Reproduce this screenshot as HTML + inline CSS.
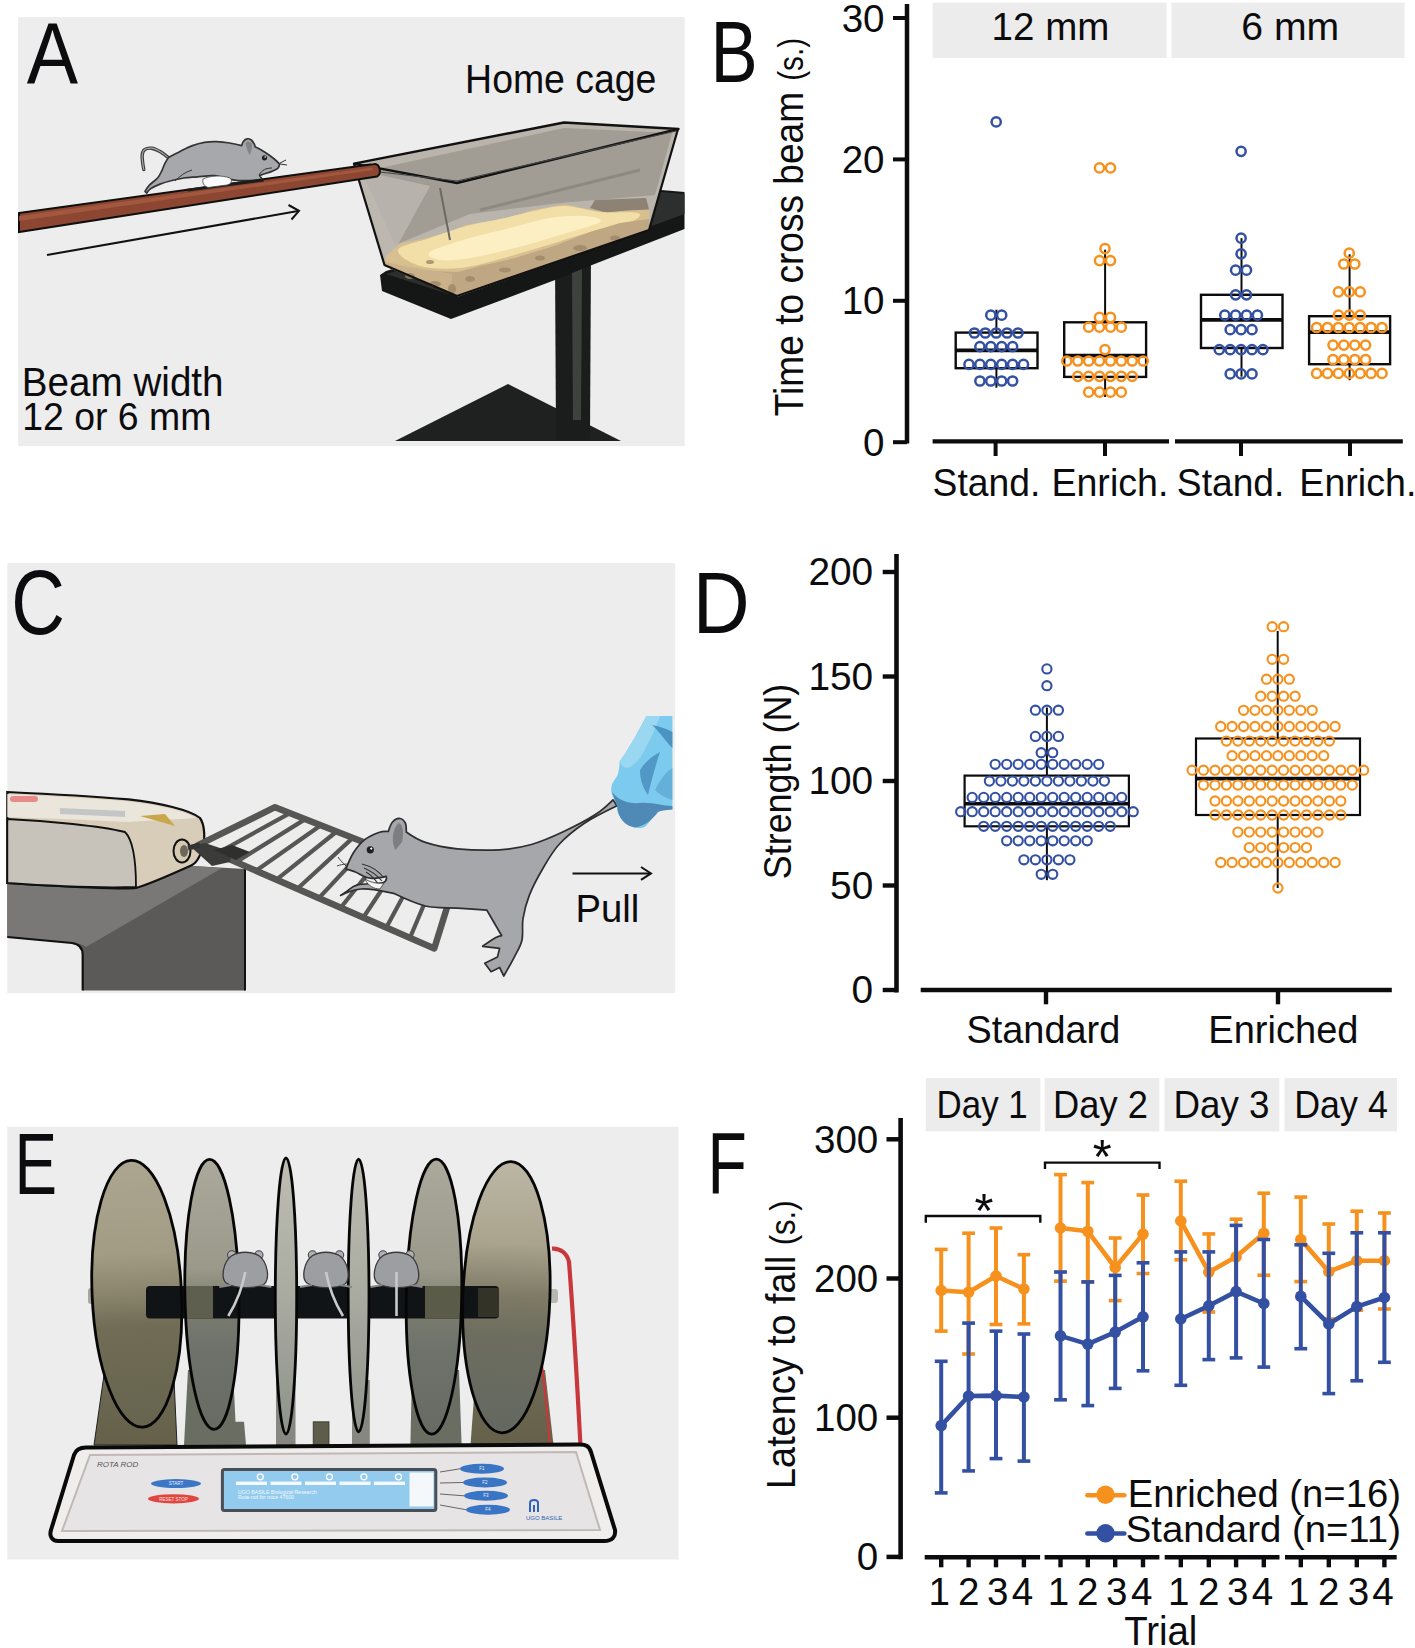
<!DOCTYPE html>
<html><head><meta charset="utf-8"><title>Figure</title>
<style>html,body{margin:0;padding:0;background:#fff;}svg{display:block;}text{font-family:"Liberation Sans",Arial,sans-serif;}</style>
</head><body>
<svg width="1415" height="1648" viewBox="0 0 1415 1648">
<rect width="1415" height="1648" fill="#ffffff"/>
<rect x="18.2" y="17" width="666.5" height="429.2" fill="#ededed"/>
<polygon points="395,441 508,384 621,441" fill="#1f2120"/>
<polygon points="555,262 591,252 590,440 556,440" fill="#1b1d1c"/>
<polygon points="572,270 582,268 581,420 573,420" fill="#3e423f"/>
<polygon points="380,275 386,271 661,190 684.5,192 684.5,229 592,265 555,280 451,319 382,291" fill="#151716"/>
<polygon points="386,274 661,192 684.5,194 684.5,214 458,297" fill="#2c2f2d"/>
<polygon points="354,164 564,123 678,129 649,230 457,296 384.5,265" fill="#b9b4ac"/>
<polygon points="362,172 564,128 672,133 655,195 560,203 470,214 395,245" fill="#a29d94"/>
<polygon points="358,176 380,175 430,186 395,250 386,258" fill="#bdb9b2" opacity="0.8"/>
<polygon points="386.4,255.6 400.7,243.3 421.2,239.2 452.0,231.0 466.3,224.8 493.0,220.7 513.5,216.6 534.0,209.5 564.7,204.3 585.2,208.4 605.7,212.5 626.2,210.5 649.8,209.5 649.0,230.0 458.0,296.6 384.5,266.0" fill="#d8bf90"/>
<polygon points="595,200 646,198 649,209.5 626,210.5 606,212.5 590,208" fill="#8d8273"/>
<path d="M398.0,250.0 C399.7,245.3 418.7,242.0 430.0,238.0 C441.3,234.0 454.3,229.2 466.0,226.0 C477.7,222.8 488.7,221.5 500.0,219.0 C511.3,216.5 523.2,213.2 534.0,211.0 C544.8,208.8 554.0,205.8 565.0,206.0 C576.0,206.2 587.8,210.8 600.0,212.0 C612.2,213.2 633.0,211.3 638.0,213.0 C643.0,214.7 638.0,218.8 630.0,222.0 C622.0,225.2 604.2,228.0 590.0,232.0 C575.8,236.0 560.0,241.5 545.0,246.0 C530.0,250.5 514.2,255.3 500.0,259.0 C485.8,262.7 473.3,266.8 460.0,268.0 C446.7,269.2 430.3,269.0 420.0,266.0 C409.7,263.0 396.3,254.7 398.0,250.0 Z" fill="#f2dfa8"/>
<path d="M430.0,252.0 C435.0,248.3 456.7,242.0 470.0,238.0 C483.3,234.0 496.7,231.3 510.0,228.0 C523.3,224.7 537.5,220.0 550.0,218.0 C562.5,216.0 576.7,215.3 585.0,216.0 C593.3,216.7 604.2,218.8 600.0,222.0 C595.8,225.2 574.2,230.7 560.0,235.0 C545.8,239.3 530.0,244.2 515.0,248.0 C500.0,251.8 482.5,256.0 470.0,258.0 C457.5,260.0 446.7,261.0 440.0,260.0 C433.3,259.0 425.0,255.7 430.0,252.0 Z" fill="#fbefc3"/>
<polygon points="386,262 405,268 430,271 458,272 480,266 515,258 554,246 590,232 620,223 649,219 649,230 458,296.6 384.5,266" fill="#bfa783"/>
<polygon points="385,262 405,266 430,270 452,274 452,294 384.5,266" fill="#ccb38b" opacity="0.9"/>
<ellipse cx="435" cy="284" rx="6" ry="3" fill="#9c8768" opacity="0.8"/>
<ellipse cx="452" cy="289" rx="4" ry="5" fill="#9c8768" opacity="0.8"/>
<ellipse cx="470" cy="279" rx="5" ry="3" fill="#9c8768" opacity="0.8"/>
<ellipse cx="505" cy="270" rx="6" ry="2.5" fill="#9c8768" opacity="0.8"/>
<ellipse cx="540" cy="258" rx="5" ry="2.5" fill="#9c8768" opacity="0.8"/>
<ellipse cx="580" cy="248" rx="7" ry="3" fill="#9c8768" opacity="0.8"/>
<ellipse cx="615" cy="238" rx="5" ry="2.5" fill="#9c8768" opacity="0.8"/>
<ellipse cx="410" cy="276" rx="5" ry="3" fill="#9c8768" opacity="0.8"/>
<ellipse cx="430" cy="262" rx="4" ry="2" fill="#9c8768" opacity="0.8"/>
<polyline points="354,164 384.5,265 457,296 649,230 678,129" fill="none" stroke="#111" stroke-width="2.2" stroke-linejoin="round"/>
<polygon points="354,163.6 564,122.5 678.5,129 457,183" fill="none" stroke="#111" stroke-width="2.4" stroke-linejoin="round"/>
<polyline points="380,172 457,181 676,131" fill="none" stroke="#444" stroke-width="1.2"/>
<line x1="480" y1="210" x2="640" y2="170" stroke="#8d8880" stroke-width="3"/>
<line x1="440" y1="188" x2="450" y2="240" stroke="#6d6860" stroke-width="2"/>
<path d="M19,213 L374,164 C380,163 382,175 377,176.5 L19,232 Z" fill="#8c4631" stroke="#0f0f0f" stroke-width="2"/>
<path d="M19,216 L372,167.5 L373,170 L19,221 Z" fill="#a85c44" opacity="0.8"/>
<path d="M168.4,157.6 C167.0,156.6 162.8,153.2 160.0,151.6 C157.2,150.0 154.2,148.5 151.6,148.2 C149.0,147.9 146.2,148.5 144.6,149.6 C143.0,150.7 142.5,152.7 142.2,155.0 C141.9,157.3 142.5,161.2 142.8,163.6 C143.1,166.0 143.6,168.5 143.8,169.5" fill="none" stroke="#3a3a3a" stroke-width="3.4" stroke-linecap="round"/>
<path d="M168.4,157.6 C167.0,156.6 162.8,153.2 160.0,151.6 C157.2,150.0 154.2,148.5 151.6,148.2 C149.0,147.9 146.2,148.5 144.6,149.6 C143.0,150.7 142.5,152.7 142.2,155.0 C141.9,157.3 142.5,161.2 142.8,163.6 C143.1,166.0 143.6,168.5 143.8,169.5" fill="none" stroke="#a9aaad" stroke-width="1.2" stroke-linecap="round"/>
<path d="M168.4,157.6 C168.4,157.6 176.5,153.2 180.5,151.2 C184.5,149.2 188.5,147.1 192.5,145.6 C196.5,144.1 200.5,143.1 204.5,142.4 C208.5,141.7 212.3,141.5 216.5,141.6 C220.7,141.7 225.5,142.3 229.7,143.0 C233.9,143.7 241.7,145.6 241.7,145.6 C241.7,145.6 242.6,142.3 243.5,141.2 C244.4,140.1 245.8,139.0 247.1,138.8 C248.4,138.6 250.1,139.1 251.3,140.0 C252.5,140.9 253.7,143.1 254.3,144.2 C254.9,145.3 255.0,146.8 255.0,146.8 C255.0,146.8 259.7,149.0 262.1,150.4 C264.5,151.8 267.2,153.6 269.4,155.2 C271.6,156.8 273.7,158.5 275.4,160.0 C277.1,161.5 279.6,164.2 279.6,164.2 C279.6,164.2 279.1,167.2 277.8,168.4 C276.5,169.6 274.0,170.5 271.8,171.4 C269.6,172.3 266.5,173.1 264.5,173.8 C262.5,174.5 259.7,175.6 259.7,175.6 C259.7,175.6 262.1,179.3 262.1,179.3 C262.1,179.3 258.9,180.3 254.9,180.5 C250.9,180.7 242.3,180.7 238.1,180.5 C233.9,180.3 233.7,180.1 229.7,179.3 C225.7,178.5 219.5,176.0 214.1,175.6 C208.7,175.2 202.3,176.5 197.3,176.9 C192.3,177.3 188.3,177.4 184.1,178.0 C179.9,178.6 176.0,179.5 172.0,180.5 C168.0,181.5 163.6,182.7 160.0,184.1 C156.4,185.5 152.6,187.4 150.4,188.9 C148.2,190.4 146.8,193.1 146.8,193.1 C146.8,193.1 145.0,191.3 145.0,191.3 C145.0,191.3 147.1,187.5 149.2,185.3 C151.3,183.1 155.5,180.4 157.6,178.0 C159.7,175.6 160.6,173.2 161.8,170.8 C163.0,168.4 163.7,165.8 164.8,163.6 C165.9,161.4 168.4,157.6 168.4,157.6 Z" fill="#a7a8ab" stroke="#333" stroke-width="1.7" stroke-linejoin="round"/>
<path d="M245.5,143 C247,140.5 250.5,141 252,144 C252.5,148 251,152 249.5,155 C247.5,151 246,147 245.5,143 Z" fill="#838487"/>
<circle cx="264.5" cy="157.8" r="2.6" fill="#1f1f1f"/><circle cx="265.2" cy="157" r="0.8" fill="#fff"/>
<path d="M186,189 L262,178.5 L264,181.5 L188,191.5 Z" fill="#1c1c1c"/>
<path d="M203,179 C210,175.5 222,175 230,178 C233,181 231,184 227,185 L208,187.5 C204,186 202,183 203,179 Z" fill="#fbfbfb" stroke="#444" stroke-width="0.8"/>
<path d="M272,168 C266,168 262,170 259,175 M280,163 L286,160 M280,164 L287,165" fill="none" stroke="#333" stroke-width="1"/>
<path d="M175,181 C180,176 185,172 192,170" fill="none" stroke="#333" stroke-width="1"/>
<line x1="47" y1="255" x2="298" y2="211" stroke="#111" stroke-width="2"/>
<polyline points="288.5,205 299,210.8 291.5,219.5" fill="none" stroke="#111" stroke-width="2"/>
<text x="26.81" y="83.50" font-size="87.56" textLength="51.35" lengthAdjust="spacingAndGlyphs" fill="#0c0c0e" >A</text>
<text x="465.11" y="92.60" font-size="40.73" textLength="191.33" lengthAdjust="spacingAndGlyphs" fill="#0c0c0e" >Home cage</text>
<text x="21.81" y="395.60" font-size="40.73" textLength="201.78" lengthAdjust="spacingAndGlyphs" fill="#0c0c0e" >Beam width</text>
<text x="22.19" y="429.50" font-size="39.27" textLength="189.23" lengthAdjust="spacingAndGlyphs" fill="#0c0c0e" >12 or 6 mm</text>
<text x="710.46" y="81.80" font-size="86.25" textLength="47.22" lengthAdjust="spacingAndGlyphs" fill="#0c0c0e" >B</text>
<rect x="932.6" y="2.6" width="234" height="55.4" fill="#ececec"/>
<rect x="1171.5" y="2.6" width="233" height="55.4" fill="#ececec"/>
<text x="991.61" y="39.60" font-size="39.27" textLength="117.74" lengthAdjust="spacingAndGlyphs" fill="#0c0c0e" >12 mm</text>
<text x="1241.24" y="39.60" font-size="39.27" textLength="98.01" lengthAdjust="spacingAndGlyphs" fill="#0c0c0e" >6 mm</text>
<line x1="907" y1="4" x2="907" y2="443.5" stroke="#0c0c0e" stroke-width="4.5"/>
<line x1="893" y1="18" x2="907" y2="18" stroke="#0c0c0e" stroke-width="4"/>
<text x="841.66" y="31.60" font-size="38.55" fill="#0c0c0e">30</text>
<line x1="893" y1="159.4" x2="907" y2="159.4" stroke="#0c0c0e" stroke-width="4"/>
<text x="841.66" y="173.00" font-size="38.55" fill="#0c0c0e">20</text>
<line x1="893" y1="300.8" x2="907" y2="300.8" stroke="#0c0c0e" stroke-width="4"/>
<text x="841.66" y="314.40" font-size="38.55" fill="#0c0c0e">10</text>
<line x1="893" y1="442.2" x2="907" y2="442.2" stroke="#0c0c0e" stroke-width="4"/>
<text x="863.05" y="455.80" font-size="38.55" fill="#0c0c0e">0</text>
<line x1="932.6" y1="441.4" x2="1169" y2="441.4" stroke="#0c0c0e" stroke-width="4.2"/>
<line x1="1175" y1="441.4" x2="1402.8" y2="441.4" stroke="#0c0c0e" stroke-width="4.2"/>
<line x1="995.6" y1="441" x2="995.6" y2="456" stroke="#0c0c0e" stroke-width="4"/>
<line x1="1105" y1="441" x2="1105" y2="456" stroke="#0c0c0e" stroke-width="4"/>
<line x1="1241" y1="441" x2="1241" y2="456" stroke="#0c0c0e" stroke-width="4"/>
<line x1="1350" y1="441" x2="1350" y2="456" stroke="#0c0c0e" stroke-width="4"/>
<text x="932.62" y="496.30" font-size="39.27" textLength="107.78" lengthAdjust="spacingAndGlyphs" fill="#0c0c0e" >Stand.</text>
<text x="1051.40" y="496.30" font-size="39.27" textLength="116.98" lengthAdjust="spacingAndGlyphs" fill="#0c0c0e" >Enrich.</text>
<text x="1176.83" y="496.30" font-size="39.27" textLength="107.57" lengthAdjust="spacingAndGlyphs" fill="#0c0c0e" >Stand.</text>
<text x="1299.30" y="496.30" font-size="39.27" textLength="117.08" lengthAdjust="spacingAndGlyphs" fill="#0c0c0e" >Enrich.</text>
<text transform="translate(803.40,415.40) rotate(-90)" x="-0.83" y="0" font-size="41.02" textLength="324.38" lengthAdjust="spacingAndGlyphs" fill="#0c0c0e">Time to cross beam</text>
<text transform="translate(803.40,79.00) rotate(-90)" x="-1.86" y="0" font-size="35.64" textLength="43.07" lengthAdjust="spacingAndGlyphs" fill="#0c0c0e">(s.)</text>
<line x1="996.4" y1="309.7" x2="996.4" y2="332.6" stroke="#0c0c0e" stroke-width="2"/><line x1="996.4" y1="368.2" x2="996.4" y2="387.7" stroke="#0c0c0e" stroke-width="2"/><rect x="955.7" y="332.6" width="81.79999999999995" height="35.599999999999966" fill="none" stroke="#0c0c0e" stroke-width="2.4"/><line x1="955.7" y1="350.4" x2="1037.5" y2="350.4" stroke="#0c0c0e" stroke-width="3.8"/>
<line x1="1105.1" y1="249.7" x2="1105.1" y2="322.3" stroke="#0c0c0e" stroke-width="2"/><line x1="1105.1" y1="376.9" x2="1105.1" y2="397" stroke="#0c0c0e" stroke-width="2"/><rect x="1064.2" y="322.3" width="81.89999999999986" height="54.599999999999966" fill="none" stroke="#0c0c0e" stroke-width="2.4"/><line x1="1064.2" y1="355.6" x2="1146.1" y2="355.6" stroke="#0c0c0e" stroke-width="3.8"/>
<line x1="1241.5" y1="238.2" x2="1241.5" y2="294.8" stroke="#0c0c0e" stroke-width="2"/><line x1="1241.5" y1="348" x2="1241.5" y2="376.7" stroke="#0c0c0e" stroke-width="2"/><rect x="1201" y="294.8" width="81.5" height="53.19999999999999" fill="none" stroke="#0c0c0e" stroke-width="2.4"/><line x1="1201" y1="319.8" x2="1282.5" y2="319.8" stroke="#0c0c0e" stroke-width="3.8"/>
<line x1="1349.6" y1="254.3" x2="1349.6" y2="316.2" stroke="#0c0c0e" stroke-width="2"/><line x1="1349.6" y1="364.2" x2="1349.6" y2="380.2" stroke="#0c0c0e" stroke-width="2"/><rect x="1309.1" y="316.2" width="81.0" height="48.0" fill="none" stroke="#0c0c0e" stroke-width="2.4"/><line x1="1309.1" y1="332.2" x2="1390.1" y2="332.2" stroke="#0c0c0e" stroke-width="3.8"/>
<circle cx="996.2" cy="121.9" r="4.6" fill="none" stroke="#3350a2" stroke-width="2.5"/><circle cx="990.8" cy="315.2" r="4.6" fill="none" stroke="#3350a2" stroke-width="2.5"/><circle cx="1001.7" cy="315.2" r="4.6" fill="none" stroke="#3350a2" stroke-width="2.5"/><circle cx="974.4" cy="333.0" r="4.6" fill="none" stroke="#3350a2" stroke-width="2.5"/><circle cx="985.3" cy="333.0" r="4.6" fill="none" stroke="#3350a2" stroke-width="2.5"/><circle cx="996.2" cy="333.0" r="4.6" fill="none" stroke="#3350a2" stroke-width="2.5"/><circle cx="1007.1" cy="333.0" r="4.6" fill="none" stroke="#3350a2" stroke-width="2.5"/><circle cx="1018.0" cy="333.0" r="4.6" fill="none" stroke="#3350a2" stroke-width="2.5"/><circle cx="979.9" cy="346.6" r="4.6" fill="none" stroke="#3350a2" stroke-width="2.5"/><circle cx="990.8" cy="346.6" r="4.6" fill="none" stroke="#3350a2" stroke-width="2.5"/><circle cx="1001.7" cy="346.6" r="4.6" fill="none" stroke="#3350a2" stroke-width="2.5"/><circle cx="1012.6" cy="346.6" r="4.6" fill="none" stroke="#3350a2" stroke-width="2.5"/><circle cx="969.0" cy="364.4" r="4.6" fill="none" stroke="#3350a2" stroke-width="2.5"/><circle cx="979.9" cy="364.4" r="4.6" fill="none" stroke="#3350a2" stroke-width="2.5"/><circle cx="990.8" cy="364.4" r="4.6" fill="none" stroke="#3350a2" stroke-width="2.5"/><circle cx="1001.7" cy="364.4" r="4.6" fill="none" stroke="#3350a2" stroke-width="2.5"/><circle cx="1012.6" cy="364.4" r="4.6" fill="none" stroke="#3350a2" stroke-width="2.5"/><circle cx="1023.5" cy="364.4" r="4.6" fill="none" stroke="#3350a2" stroke-width="2.5"/><circle cx="979.9" cy="381.0" r="4.6" fill="none" stroke="#3350a2" stroke-width="2.5"/><circle cx="990.8" cy="381.0" r="4.6" fill="none" stroke="#3350a2" stroke-width="2.5"/><circle cx="1001.7" cy="381.0" r="4.6" fill="none" stroke="#3350a2" stroke-width="2.5"/><circle cx="1012.6" cy="381.0" r="4.6" fill="none" stroke="#3350a2" stroke-width="2.5"/>
<circle cx="1099.5" cy="167.9" r="4.6" fill="none" stroke="#f6911e" stroke-width="2.5"/><circle cx="1110.5" cy="167.9" r="4.6" fill="none" stroke="#f6911e" stroke-width="2.5"/><circle cx="1105.0" cy="248.6" r="4.6" fill="none" stroke="#f6911e" stroke-width="2.5"/><circle cx="1099.5" cy="260.6" r="4.6" fill="none" stroke="#f6911e" stroke-width="2.5"/><circle cx="1110.5" cy="260.6" r="4.6" fill="none" stroke="#f6911e" stroke-width="2.5"/><circle cx="1099.5" cy="317.4" r="4.6" fill="none" stroke="#f6911e" stroke-width="2.5"/><circle cx="1110.5" cy="317.4" r="4.6" fill="none" stroke="#f6911e" stroke-width="2.5"/><circle cx="1088.7" cy="327.2" r="4.6" fill="none" stroke="#f6911e" stroke-width="2.5"/><circle cx="1099.5" cy="327.2" r="4.6" fill="none" stroke="#f6911e" stroke-width="2.5"/><circle cx="1110.5" cy="327.2" r="4.6" fill="none" stroke="#f6911e" stroke-width="2.5"/><circle cx="1121.3" cy="327.2" r="4.6" fill="none" stroke="#f6911e" stroke-width="2.5"/><circle cx="1105.0" cy="349.6" r="4.6" fill="none" stroke="#f6911e" stroke-width="2.5"/><circle cx="1066.8" cy="361.0" r="4.6" fill="none" stroke="#f6911e" stroke-width="2.5"/><circle cx="1077.8" cy="361.0" r="4.6" fill="none" stroke="#f6911e" stroke-width="2.5"/><circle cx="1088.7" cy="361.0" r="4.6" fill="none" stroke="#f6911e" stroke-width="2.5"/><circle cx="1099.5" cy="361.0" r="4.6" fill="none" stroke="#f6911e" stroke-width="2.5"/><circle cx="1110.5" cy="361.0" r="4.6" fill="none" stroke="#f6911e" stroke-width="2.5"/><circle cx="1121.3" cy="361.0" r="4.6" fill="none" stroke="#f6911e" stroke-width="2.5"/><circle cx="1132.2" cy="361.0" r="4.6" fill="none" stroke="#f6911e" stroke-width="2.5"/><circle cx="1143.2" cy="361.0" r="4.6" fill="none" stroke="#f6911e" stroke-width="2.5"/><circle cx="1077.8" cy="376.3" r="4.6" fill="none" stroke="#f6911e" stroke-width="2.5"/><circle cx="1088.7" cy="376.3" r="4.6" fill="none" stroke="#f6911e" stroke-width="2.5"/><circle cx="1099.5" cy="376.3" r="4.6" fill="none" stroke="#f6911e" stroke-width="2.5"/><circle cx="1110.5" cy="376.3" r="4.6" fill="none" stroke="#f6911e" stroke-width="2.5"/><circle cx="1121.3" cy="376.3" r="4.6" fill="none" stroke="#f6911e" stroke-width="2.5"/><circle cx="1132.2" cy="376.3" r="4.6" fill="none" stroke="#f6911e" stroke-width="2.5"/><circle cx="1088.7" cy="392.2" r="4.6" fill="none" stroke="#f6911e" stroke-width="2.5"/><circle cx="1099.5" cy="392.2" r="4.6" fill="none" stroke="#f6911e" stroke-width="2.5"/><circle cx="1110.5" cy="392.2" r="4.6" fill="none" stroke="#f6911e" stroke-width="2.5"/><circle cx="1121.3" cy="392.2" r="4.6" fill="none" stroke="#f6911e" stroke-width="2.5"/>
<circle cx="1241.1" cy="151.3" r="4.6" fill="none" stroke="#3350a2" stroke-width="2.5"/><circle cx="1241.1" cy="238.2" r="4.6" fill="none" stroke="#3350a2" stroke-width="2.5"/><circle cx="1241.1" cy="253.8" r="4.6" fill="none" stroke="#3350a2" stroke-width="2.5"/><circle cx="1235.6" cy="270.2" r="4.6" fill="none" stroke="#3350a2" stroke-width="2.5"/><circle cx="1246.5" cy="270.2" r="4.6" fill="none" stroke="#3350a2" stroke-width="2.5"/><circle cx="1235.6" cy="294.8" r="4.6" fill="none" stroke="#3350a2" stroke-width="2.5"/><circle cx="1246.5" cy="294.8" r="4.6" fill="none" stroke="#3350a2" stroke-width="2.5"/><circle cx="1224.8" cy="315.2" r="4.6" fill="none" stroke="#3350a2" stroke-width="2.5"/><circle cx="1235.6" cy="315.2" r="4.6" fill="none" stroke="#3350a2" stroke-width="2.5"/><circle cx="1246.5" cy="315.2" r="4.6" fill="none" stroke="#3350a2" stroke-width="2.5"/><circle cx="1257.4" cy="315.2" r="4.6" fill="none" stroke="#3350a2" stroke-width="2.5"/><circle cx="1230.2" cy="329.7" r="4.6" fill="none" stroke="#3350a2" stroke-width="2.5"/><circle cx="1241.1" cy="329.7" r="4.6" fill="none" stroke="#3350a2" stroke-width="2.5"/><circle cx="1252.0" cy="329.7" r="4.6" fill="none" stroke="#3350a2" stroke-width="2.5"/><circle cx="1219.3" cy="349.7" r="4.6" fill="none" stroke="#3350a2" stroke-width="2.5"/><circle cx="1230.2" cy="349.7" r="4.6" fill="none" stroke="#3350a2" stroke-width="2.5"/><circle cx="1241.1" cy="349.7" r="4.6" fill="none" stroke="#3350a2" stroke-width="2.5"/><circle cx="1252.0" cy="349.7" r="4.6" fill="none" stroke="#3350a2" stroke-width="2.5"/><circle cx="1262.9" cy="349.7" r="4.6" fill="none" stroke="#3350a2" stroke-width="2.5"/><circle cx="1230.2" cy="373.9" r="4.6" fill="none" stroke="#3350a2" stroke-width="2.5"/><circle cx="1241.1" cy="373.9" r="4.6" fill="none" stroke="#3350a2" stroke-width="2.5"/><circle cx="1252.0" cy="373.9" r="4.6" fill="none" stroke="#3350a2" stroke-width="2.5"/>
<circle cx="1349.3" cy="253.2" r="4.6" fill="none" stroke="#f6911e" stroke-width="2.5"/><circle cx="1343.8" cy="264.0" r="4.6" fill="none" stroke="#f6911e" stroke-width="2.5"/><circle cx="1354.8" cy="264.0" r="4.6" fill="none" stroke="#f6911e" stroke-width="2.5"/><circle cx="1338.4" cy="291.9" r="4.6" fill="none" stroke="#f6911e" stroke-width="2.5"/><circle cx="1349.3" cy="291.9" r="4.6" fill="none" stroke="#f6911e" stroke-width="2.5"/><circle cx="1360.2" cy="291.9" r="4.6" fill="none" stroke="#f6911e" stroke-width="2.5"/><circle cx="1338.4" cy="315.1" r="4.6" fill="none" stroke="#f6911e" stroke-width="2.5"/><circle cx="1349.3" cy="315.1" r="4.6" fill="none" stroke="#f6911e" stroke-width="2.5"/><circle cx="1360.2" cy="315.1" r="4.6" fill="none" stroke="#f6911e" stroke-width="2.5"/><circle cx="1316.6" cy="327.5" r="4.6" fill="none" stroke="#f6911e" stroke-width="2.5"/><circle cx="1327.5" cy="327.5" r="4.6" fill="none" stroke="#f6911e" stroke-width="2.5"/><circle cx="1338.4" cy="327.5" r="4.6" fill="none" stroke="#f6911e" stroke-width="2.5"/><circle cx="1349.3" cy="327.5" r="4.6" fill="none" stroke="#f6911e" stroke-width="2.5"/><circle cx="1360.2" cy="327.5" r="4.6" fill="none" stroke="#f6911e" stroke-width="2.5"/><circle cx="1371.1" cy="327.5" r="4.6" fill="none" stroke="#f6911e" stroke-width="2.5"/><circle cx="1382.0" cy="327.5" r="4.6" fill="none" stroke="#f6911e" stroke-width="2.5"/><circle cx="1333.0" cy="345.1" r="4.6" fill="none" stroke="#f6911e" stroke-width="2.5"/><circle cx="1343.8" cy="345.1" r="4.6" fill="none" stroke="#f6911e" stroke-width="2.5"/><circle cx="1354.8" cy="345.1" r="4.6" fill="none" stroke="#f6911e" stroke-width="2.5"/><circle cx="1365.6" cy="345.1" r="4.6" fill="none" stroke="#f6911e" stroke-width="2.5"/><circle cx="1333.0" cy="359.5" r="4.6" fill="none" stroke="#f6911e" stroke-width="2.5"/><circle cx="1343.8" cy="359.5" r="4.6" fill="none" stroke="#f6911e" stroke-width="2.5"/><circle cx="1354.8" cy="359.5" r="4.6" fill="none" stroke="#f6911e" stroke-width="2.5"/><circle cx="1365.6" cy="359.5" r="4.6" fill="none" stroke="#f6911e" stroke-width="2.5"/><circle cx="1316.6" cy="373.4" r="4.6" fill="none" stroke="#f6911e" stroke-width="2.5"/><circle cx="1327.5" cy="373.4" r="4.6" fill="none" stroke="#f6911e" stroke-width="2.5"/><circle cx="1338.4" cy="373.4" r="4.6" fill="none" stroke="#f6911e" stroke-width="2.5"/><circle cx="1349.3" cy="373.4" r="4.6" fill="none" stroke="#f6911e" stroke-width="2.5"/><circle cx="1360.2" cy="373.4" r="4.6" fill="none" stroke="#f6911e" stroke-width="2.5"/><circle cx="1371.1" cy="373.4" r="4.6" fill="none" stroke="#f6911e" stroke-width="2.5"/><circle cx="1382.0" cy="373.4" r="4.6" fill="none" stroke="#f6911e" stroke-width="2.5"/>
<rect x="7.3" y="563.1" width="667.8" height="430.1" fill="#ededed"/>
<text x="11.28" y="634.00" font-size="90.18" textLength="53.66" lengthAdjust="spacingAndGlyphs" fill="#0c0c0e" >C</text>
<path d="M7.3,883 L193,866 L245,869 L245,990.5 L82.7,990.5 L82.7,955 C82.7,948 79,944 72,943 L7.3,937 Z" fill="#5b5a59"/>
<path d="M7.3,883 L193,866 L222,868 L86,947 C84,945 80,943.5 72,943 L7.3,937 Z" fill="#7a7877"/>
<path d="M245,869 L245,990.5" stroke="#111" stroke-width="2"/>
<path d="M82.7,990.5 L82.7,955 C82.7,948 79,944 72,943 L7.3,937" fill="none" stroke="#111" stroke-width="2.2"/>
<path d="M7.3,792 C50,794 100,797 128.6,799.4 C160,803 190,810 200,818 C205,825 205,840 203,846 C200,858 196,864 190,866 C170,875 150,884 136,888 C120,890 60,886 7.3,883 Z" fill="#d8cdb8" stroke="#111" stroke-width="2.2"/>
<path d="M7.3,794 C50,796 100,799 128.6,801.4 C160,805 185,811 196,818 C170,820 140,821 128,822 C90,820 40,818 7.3,817 Z" fill="#ebe6dc"/>
<path d="M7.3,819 C50,821 100,826 125,832 C133,840 136,860 136,887 C100,888 50,886 7.3,883 Z" fill="#c7c3bb" stroke="#111" stroke-width="1.8"/>
<rect x="10" y="796" width="28" height="6" rx="3" fill="#e88a8a"/>
<polygon points="60,808 125,811 125,817 60,814" fill="#c4c6c6"/>
<polygon points="140,816 165,814 175,826" fill="#c9a64a"/>
<ellipse cx="182" cy="851" rx="8.5" ry="11.5" fill="#d3c8b2" stroke="#111" stroke-width="2"/>
<ellipse cx="184" cy="851" rx="4" ry="6" fill="#6d6659"/>
<polygon points="197.6,845.3 275.0,807.2 456.0,878.5 434.3,948.4" fill="none" stroke="#565654" stroke-width="6.5" stroke-linejoin="round"/>
<line x1="216.6" y1="853.6" x2="290.0" y2="813.1" stroke="#565654" stroke-width="4.2"/>
<line x1="236.1" y1="862.1" x2="305.3" y2="819.1" stroke="#565654" stroke-width="4.2"/>
<line x1="256.0" y1="870.8" x2="320.9" y2="825.3" stroke="#565654" stroke-width="4.2"/>
<line x1="276.5" y1="879.6" x2="336.7" y2="831.5" stroke="#565654" stroke-width="4.2"/>
<line x1="297.4" y1="888.8" x2="352.8" y2="837.9" stroke="#565654" stroke-width="4.2"/>
<line x1="318.8" y1="898.1" x2="369.2" y2="844.3" stroke="#565654" stroke-width="4.2"/>
<line x1="340.7" y1="907.7" x2="385.9" y2="850.9" stroke="#565654" stroke-width="4.2"/>
<line x1="363.3" y1="917.5" x2="403.0" y2="857.6" stroke="#565654" stroke-width="4.2"/>
<line x1="386.3" y1="927.5" x2="420.3" y2="864.4" stroke="#565654" stroke-width="4.2"/>
<line x1="410.0" y1="937.8" x2="438.0" y2="871.4" stroke="#565654" stroke-width="4.2"/>
<path d="M190,846 L205,843 L232,852 L230,862 L212,866 Z" fill="#3b3b3a"/>
<path d="M214,850 L232,845 L250,852 L236,860 Z" fill="#2f2f2e"/>
<line x1="188" y1="848" x2="200" y2="845" stroke="#333" stroke-width="5"/>
<path d="M345.9,868.9 C345.9,868.9 350.3,857.8 353.3,853.0 C356.3,848.2 359.6,843.7 363.9,840.3 C368.1,836.9 374.7,834.0 378.8,832.5 C382.9,831.0 388.3,831.5 388.3,831.5 C388.3,831.5 390.6,824.2 392.5,822.0 C394.4,819.8 397.9,818.3 400.0,818.5 C402.1,818.7 404.2,820.8 405.3,823.0 C406.4,825.2 406.3,832.0 406.3,832.0 C406.3,832.0 416.9,839.6 425.4,842.4 C433.9,845.2 444.8,847.6 457.2,848.8 C469.6,850.0 487.2,850.5 499.6,849.8 C512.0,849.1 520.8,847.5 531.4,844.5 C542.0,841.5 552.6,836.8 563.2,831.8 C573.8,826.8 586.7,820.1 595.0,814.8 C603.3,809.5 613.0,799.8 613.0,799.8 C613.0,799.8 617.0,805.8 617.0,805.8 C617.0,805.8 594.1,816.8 584.4,823.3 C574.7,829.8 566.1,836.7 559.0,844.5 C551.9,852.3 547.0,861.5 542.0,870.0 C537.0,878.5 532.5,887.3 529.3,895.4 C526.1,903.5 524.2,911.3 523.0,918.7 C521.8,926.1 523.4,933.6 522.0,940.0 C520.6,946.4 517.4,950.9 514.4,956.9 C511.4,962.9 503.8,976.0 503.8,976.0 C503.8,976.0 499.6,967.5 499.6,967.5 C499.6,967.5 491.1,971.7 491.1,971.7 C491.1,971.7 484.8,963.2 484.8,963.2 C484.8,963.2 497.5,956.9 497.5,956.9 C497.5,956.9 499.6,948.4 499.6,948.4 C499.6,948.4 482.6,946.3 482.6,946.3 C482.6,946.3 492.2,939.6 495.4,937.8 C498.6,936.0 501.7,935.7 501.7,935.7 C501.7,935.7 486.9,910.2 486.9,910.2 C486.9,910.2 467.4,908.8 457.2,908.1 C446.9,907.4 436.0,908.5 425.4,906.0 C414.8,903.5 393.6,893.3 393.6,893.3 C393.6,893.3 370.6,888.6 361.8,889.0 C353.0,889.4 340.6,895.4 340.6,895.4 C340.6,895.4 344.2,893.0 347.0,891.2 C349.8,889.4 351.6,886.2 357.6,884.8 C363.6,883.4 378.2,884.1 383.0,882.7 C387.8,881.3 386.2,876.3 386.2,876.3 C386.2,876.3 376.1,878.4 372.4,878.4 C368.7,878.4 366.7,877.4 363.9,876.3 C361.1,875.2 358.4,873.2 355.4,872.0 C352.4,870.8 345.9,868.9 345.9,868.9 Z" fill="#a6a7aa" stroke="#2e2e2e" stroke-width="1.7" stroke-linejoin="round"/>
<path d="M395.5,850 C391,843 392,828 399,823 C403,825 404,833 402,842 Z" fill="#7d7e81"/>
<circle cx="370.3" cy="849.8" r="3.6" fill="#1e1e1e"/><circle cx="371.3" cy="848.6" r="1.1" fill="#fff"/>
<path d="M362,864 C370,866 378,870 384,878 M364,868 C371,871 377,875 382,881 M366,872 C371,875 375,879 378,884" fill="none" stroke="#333" stroke-width="1.1"/>
<path d="M365,879 C370,882 376,884 384,883 L380,889 C374,889 368,886 365,879 Z" fill="#f4f4f4" stroke="#333" stroke-width="0.8"/>
<path d="M346,866 C342,862 340,860 338,857 M347,864 C343,864 340,865 337,866" fill="none" stroke="#333" stroke-width="0.9"/>
<path d="M646.5,716.1 C646.5,716.1 672.4,716.1 672.4,716.1 C672.4,716.1 672.4,809.6 672.4,809.6 C672.4,809.6 662.5,809.3 658.0,812.1 C653.5,814.9 649.0,824.1 645.2,826.6 C641.4,829.1 638.2,828.0 635.0,827.4 C631.8,826.8 628.5,825.6 625.7,823.2 C622.9,820.8 619.4,816.0 618.0,813.0 C616.6,810.0 618.2,808.6 617.2,805.4 C616.2,802.1 612.6,797.0 611.7,793.5 C610.9,790.0 611.1,787.4 612.1,784.1 C613.1,780.8 616.7,777.7 618.0,773.9 C619.3,770.1 619.7,761.2 619.7,761.2 C619.7,761.2 625.7,752.7 625.7,752.7 C625.7,752.7 635.9,735.7 635.9,735.7 C635.9,735.7 646.5,716.1 646.5,716.1 Z" fill="#7ccbee"/>
<path d="M646.5,716.1 L660,716.1 C655,730 648,745 640,758 C632,768 625,772 619.5,762 L625.7,752.7 L635.9,735.7 Z" fill="#9ad7f0"/>
<path d="M612,792 C618,800 628,804 640,803 C652,802 662,806 672.4,806 L672.4,809.6 C665,810 660,811 658,812 C652,820 645,826 635,827.4 C625,826 618,818 617,806 Z" fill="#4e8ab5"/>
<path d="M652,725 C660,732 666,742 672.4,748 L672.4,732 C665,728 658,726 652,725 Z" fill="#3f84b5" opacity="0.8"/>
<path d="M640,770 C645,762 652,756 660,752 C656,764 652,778 648,795 C643,788 640,780 640,770 Z" fill="#4a8fbf" opacity="0.85"/>
<path d="M655,790 C660,780 666,772 672.4,768 L672.4,800 C666,798 660,795 655,790 Z" fill="#5ea9d6" opacity="0.8"/>
<line x1="572.5" y1="873.4" x2="650" y2="873.4" stroke="#111" stroke-width="2"/>
<polyline points="641,867 651,873.4 641,879.8" fill="none" stroke="#111" stroke-width="2"/>
<text x="575.54" y="921.60" font-size="39.56" textLength="63.84" lengthAdjust="spacingAndGlyphs" fill="#0c0c0e" >Pull</text>
<text x="692.80" y="632.50" font-size="86.40" textLength="56.92" lengthAdjust="spacingAndGlyphs" fill="#0c0c0e" >D</text>
<line x1="896.5" y1="554" x2="896.5" y2="992.5" stroke="#0c0c0e" stroke-width="4.6"/>
<line x1="882.7" y1="572.0" x2="897" y2="572.0" stroke="#0c0c0e" stroke-width="4.4"/>
<text x="808.40" y="585.40" font-size="38.84" fill="#0c0c0e">200</text>
<line x1="882.7" y1="676.5" x2="897" y2="676.5" stroke="#0c0c0e" stroke-width="4.4"/>
<text x="808.40" y="689.90" font-size="38.84" fill="#0c0c0e">150</text>
<line x1="882.7" y1="781.0" x2="897" y2="781.0" stroke="#0c0c0e" stroke-width="4.4"/>
<text x="808.40" y="794.40" font-size="38.84" fill="#0c0c0e">100</text>
<line x1="882.7" y1="885.5" x2="897" y2="885.5" stroke="#0c0c0e" stroke-width="4.4"/>
<text x="830.05" y="898.90" font-size="38.84" fill="#0c0c0e">50</text>
<line x1="882.7" y1="990.0" x2="897" y2="990.0" stroke="#0c0c0e" stroke-width="4.4"/>
<text x="851.60" y="1003.40" font-size="38.84" fill="#0c0c0e">0</text>
<line x1="920.7" y1="990" x2="1391.8" y2="990" stroke="#0c0c0e" stroke-width="4.5"/>
<line x1="1046" y1="990" x2="1046" y2="1004.3" stroke="#0c0c0e" stroke-width="4.4"/>
<line x1="1278" y1="990" x2="1278" y2="1004.3" stroke="#0c0c0e" stroke-width="4.4"/>
<text x="966.50" y="1043.20" font-size="39.56" textLength="153.72" lengthAdjust="spacingAndGlyphs" fill="#0c0c0e" >Standard</text>
<text x="1208.36" y="1043.20" font-size="39.56" textLength="150.09" lengthAdjust="spacingAndGlyphs" fill="#0c0c0e" >Enriched</text>
<text transform="translate(790.70,877.60) rotate(-90)" x="-1.62" y="0" font-size="39.71" textLength="195.51" lengthAdjust="spacingAndGlyphs" fill="#0c0c0e">Strength (N)</text>
<line x1="1046.9" y1="707.5" x2="1046.9" y2="775.6" stroke="#0c0c0e" stroke-width="2"/><line x1="1046.9" y1="826.3" x2="1046.9" y2="880.2" stroke="#0c0c0e" stroke-width="2"/><rect x="964.6" y="775.6" width="164.30000000000007" height="50.69999999999993" fill="none" stroke="#0c0c0e" stroke-width="2.2"/><line x1="964.6" y1="803.7" x2="1128.9" y2="803.7" stroke="#0c0c0e" stroke-width="3.6"/>
<line x1="1277.7" y1="631" x2="1277.7" y2="738.5" stroke="#0c0c0e" stroke-width="2"/><line x1="1277.7" y1="815" x2="1277.7" y2="888" stroke="#0c0c0e" stroke-width="2"/><rect x="1196" y="738.5" width="164" height="76.5" fill="none" stroke="#0c0c0e" stroke-width="2.2"/><line x1="1196" y1="778.6" x2="1360" y2="778.6" stroke="#0c0c0e" stroke-width="3.6"/>
<circle cx="1046.9" cy="668.9" r="4.6" fill="none" stroke="#3350a2" stroke-width="2.1"/><circle cx="1046.9" cy="685.7" r="4.6" fill="none" stroke="#3350a2" stroke-width="2.1"/><circle cx="1035.4" cy="710.2" r="4.6" fill="none" stroke="#3350a2" stroke-width="2.1"/><circle cx="1046.9" cy="710.2" r="4.6" fill="none" stroke="#3350a2" stroke-width="2.1"/><circle cx="1058.4" cy="710.2" r="4.6" fill="none" stroke="#3350a2" stroke-width="2.1"/><circle cx="1035.4" cy="736.4" r="4.6" fill="none" stroke="#3350a2" stroke-width="2.1"/><circle cx="1046.9" cy="736.4" r="4.6" fill="none" stroke="#3350a2" stroke-width="2.1"/><circle cx="1058.4" cy="736.4" r="4.6" fill="none" stroke="#3350a2" stroke-width="2.1"/><circle cx="1041.2" cy="752.7" r="4.6" fill="none" stroke="#3350a2" stroke-width="2.1"/><circle cx="1052.7" cy="752.7" r="4.6" fill="none" stroke="#3350a2" stroke-width="2.1"/><circle cx="995.2" cy="764.3" r="4.6" fill="none" stroke="#3350a2" stroke-width="2.1"/><circle cx="1006.7" cy="764.3" r="4.6" fill="none" stroke="#3350a2" stroke-width="2.1"/><circle cx="1018.2" cy="764.3" r="4.6" fill="none" stroke="#3350a2" stroke-width="2.1"/><circle cx="1029.7" cy="764.3" r="4.6" fill="none" stroke="#3350a2" stroke-width="2.1"/><circle cx="1041.2" cy="764.3" r="4.6" fill="none" stroke="#3350a2" stroke-width="2.1"/><circle cx="1052.7" cy="764.3" r="4.6" fill="none" stroke="#3350a2" stroke-width="2.1"/><circle cx="1064.2" cy="764.3" r="4.6" fill="none" stroke="#3350a2" stroke-width="2.1"/><circle cx="1075.7" cy="764.3" r="4.6" fill="none" stroke="#3350a2" stroke-width="2.1"/><circle cx="1087.2" cy="764.3" r="4.6" fill="none" stroke="#3350a2" stroke-width="2.1"/><circle cx="1098.7" cy="764.3" r="4.6" fill="none" stroke="#3350a2" stroke-width="2.1"/><circle cx="989.4" cy="781.1" r="4.6" fill="none" stroke="#3350a2" stroke-width="2.1"/><circle cx="1000.9" cy="781.1" r="4.6" fill="none" stroke="#3350a2" stroke-width="2.1"/><circle cx="1012.4" cy="781.1" r="4.6" fill="none" stroke="#3350a2" stroke-width="2.1"/><circle cx="1023.9" cy="781.1" r="4.6" fill="none" stroke="#3350a2" stroke-width="2.1"/><circle cx="1035.4" cy="781.1" r="4.6" fill="none" stroke="#3350a2" stroke-width="2.1"/><circle cx="1046.9" cy="781.1" r="4.6" fill="none" stroke="#3350a2" stroke-width="2.1"/><circle cx="1058.4" cy="781.1" r="4.6" fill="none" stroke="#3350a2" stroke-width="2.1"/><circle cx="1069.9" cy="781.1" r="4.6" fill="none" stroke="#3350a2" stroke-width="2.1"/><circle cx="1081.4" cy="781.1" r="4.6" fill="none" stroke="#3350a2" stroke-width="2.1"/><circle cx="1092.9" cy="781.1" r="4.6" fill="none" stroke="#3350a2" stroke-width="2.1"/><circle cx="1104.4" cy="781.1" r="4.6" fill="none" stroke="#3350a2" stroke-width="2.1"/><circle cx="972.2" cy="797.4" r="4.6" fill="none" stroke="#3350a2" stroke-width="2.1"/><circle cx="983.7" cy="797.4" r="4.6" fill="none" stroke="#3350a2" stroke-width="2.1"/><circle cx="995.2" cy="797.4" r="4.6" fill="none" stroke="#3350a2" stroke-width="2.1"/><circle cx="1006.7" cy="797.4" r="4.6" fill="none" stroke="#3350a2" stroke-width="2.1"/><circle cx="1018.2" cy="797.4" r="4.6" fill="none" stroke="#3350a2" stroke-width="2.1"/><circle cx="1029.7" cy="797.4" r="4.6" fill="none" stroke="#3350a2" stroke-width="2.1"/><circle cx="1041.2" cy="797.4" r="4.6" fill="none" stroke="#3350a2" stroke-width="2.1"/><circle cx="1052.7" cy="797.4" r="4.6" fill="none" stroke="#3350a2" stroke-width="2.1"/><circle cx="1064.2" cy="797.4" r="4.6" fill="none" stroke="#3350a2" stroke-width="2.1"/><circle cx="1075.7" cy="797.4" r="4.6" fill="none" stroke="#3350a2" stroke-width="2.1"/><circle cx="1087.2" cy="797.4" r="4.6" fill="none" stroke="#3350a2" stroke-width="2.1"/><circle cx="1098.7" cy="797.4" r="4.6" fill="none" stroke="#3350a2" stroke-width="2.1"/><circle cx="1110.2" cy="797.4" r="4.6" fill="none" stroke="#3350a2" stroke-width="2.1"/><circle cx="1121.7" cy="797.4" r="4.6" fill="none" stroke="#3350a2" stroke-width="2.1"/><circle cx="960.7" cy="811.7" r="4.6" fill="none" stroke="#3350a2" stroke-width="2.1"/><circle cx="972.2" cy="811.7" r="4.6" fill="none" stroke="#3350a2" stroke-width="2.1"/><circle cx="983.7" cy="811.7" r="4.6" fill="none" stroke="#3350a2" stroke-width="2.1"/><circle cx="995.2" cy="811.7" r="4.6" fill="none" stroke="#3350a2" stroke-width="2.1"/><circle cx="1006.7" cy="811.7" r="4.6" fill="none" stroke="#3350a2" stroke-width="2.1"/><circle cx="1018.2" cy="811.7" r="4.6" fill="none" stroke="#3350a2" stroke-width="2.1"/><circle cx="1029.7" cy="811.7" r="4.6" fill="none" stroke="#3350a2" stroke-width="2.1"/><circle cx="1041.2" cy="811.7" r="4.6" fill="none" stroke="#3350a2" stroke-width="2.1"/><circle cx="1052.7" cy="811.7" r="4.6" fill="none" stroke="#3350a2" stroke-width="2.1"/><circle cx="1064.2" cy="811.7" r="4.6" fill="none" stroke="#3350a2" stroke-width="2.1"/><circle cx="1075.7" cy="811.7" r="4.6" fill="none" stroke="#3350a2" stroke-width="2.1"/><circle cx="1087.2" cy="811.7" r="4.6" fill="none" stroke="#3350a2" stroke-width="2.1"/><circle cx="1098.7" cy="811.7" r="4.6" fill="none" stroke="#3350a2" stroke-width="2.1"/><circle cx="1110.2" cy="811.7" r="4.6" fill="none" stroke="#3350a2" stroke-width="2.1"/><circle cx="1121.7" cy="811.7" r="4.6" fill="none" stroke="#3350a2" stroke-width="2.1"/><circle cx="1133.2" cy="811.7" r="4.6" fill="none" stroke="#3350a2" stroke-width="2.1"/><circle cx="983.7" cy="826.3" r="4.6" fill="none" stroke="#3350a2" stroke-width="2.1"/><circle cx="995.2" cy="826.3" r="4.6" fill="none" stroke="#3350a2" stroke-width="2.1"/><circle cx="1006.7" cy="826.3" r="4.6" fill="none" stroke="#3350a2" stroke-width="2.1"/><circle cx="1018.2" cy="826.3" r="4.6" fill="none" stroke="#3350a2" stroke-width="2.1"/><circle cx="1029.7" cy="826.3" r="4.6" fill="none" stroke="#3350a2" stroke-width="2.1"/><circle cx="1041.2" cy="826.3" r="4.6" fill="none" stroke="#3350a2" stroke-width="2.1"/><circle cx="1052.7" cy="826.3" r="4.6" fill="none" stroke="#3350a2" stroke-width="2.1"/><circle cx="1064.2" cy="826.3" r="4.6" fill="none" stroke="#3350a2" stroke-width="2.1"/><circle cx="1075.7" cy="826.3" r="4.6" fill="none" stroke="#3350a2" stroke-width="2.1"/><circle cx="1087.2" cy="826.3" r="4.6" fill="none" stroke="#3350a2" stroke-width="2.1"/><circle cx="1098.7" cy="826.3" r="4.6" fill="none" stroke="#3350a2" stroke-width="2.1"/><circle cx="1110.2" cy="826.3" r="4.6" fill="none" stroke="#3350a2" stroke-width="2.1"/><circle cx="1006.7" cy="840.8" r="4.6" fill="none" stroke="#3350a2" stroke-width="2.1"/><circle cx="1018.2" cy="840.8" r="4.6" fill="none" stroke="#3350a2" stroke-width="2.1"/><circle cx="1029.7" cy="840.8" r="4.6" fill="none" stroke="#3350a2" stroke-width="2.1"/><circle cx="1041.2" cy="840.8" r="4.6" fill="none" stroke="#3350a2" stroke-width="2.1"/><circle cx="1052.7" cy="840.8" r="4.6" fill="none" stroke="#3350a2" stroke-width="2.1"/><circle cx="1064.2" cy="840.8" r="4.6" fill="none" stroke="#3350a2" stroke-width="2.1"/><circle cx="1075.7" cy="840.8" r="4.6" fill="none" stroke="#3350a2" stroke-width="2.1"/><circle cx="1087.2" cy="840.8" r="4.6" fill="none" stroke="#3350a2" stroke-width="2.1"/><circle cx="1023.9" cy="859.8" r="4.6" fill="none" stroke="#3350a2" stroke-width="2.1"/><circle cx="1035.4" cy="859.8" r="4.6" fill="none" stroke="#3350a2" stroke-width="2.1"/><circle cx="1046.9" cy="859.8" r="4.6" fill="none" stroke="#3350a2" stroke-width="2.1"/><circle cx="1058.4" cy="859.8" r="4.6" fill="none" stroke="#3350a2" stroke-width="2.1"/><circle cx="1069.9" cy="859.8" r="4.6" fill="none" stroke="#3350a2" stroke-width="2.1"/><circle cx="1041.2" cy="874.3" r="4.6" fill="none" stroke="#3350a2" stroke-width="2.1"/><circle cx="1052.7" cy="874.3" r="4.6" fill="none" stroke="#3350a2" stroke-width="2.1"/>
<circle cx="1272.2" cy="626.7" r="4.6" fill="none" stroke="#f6911e" stroke-width="2.1"/><circle cx="1283.6" cy="626.7" r="4.6" fill="none" stroke="#f6911e" stroke-width="2.1"/><circle cx="1272.2" cy="659.3" r="4.6" fill="none" stroke="#f6911e" stroke-width="2.1"/><circle cx="1283.6" cy="659.3" r="4.6" fill="none" stroke="#f6911e" stroke-width="2.1"/><circle cx="1266.5" cy="679.2" r="4.6" fill="none" stroke="#f6911e" stroke-width="2.1"/><circle cx="1277.9" cy="679.2" r="4.6" fill="none" stroke="#f6911e" stroke-width="2.1"/><circle cx="1289.3" cy="679.2" r="4.6" fill="none" stroke="#f6911e" stroke-width="2.1"/><circle cx="1260.7" cy="696.2" r="4.6" fill="none" stroke="#f6911e" stroke-width="2.1"/><circle cx="1272.2" cy="696.2" r="4.6" fill="none" stroke="#f6911e" stroke-width="2.1"/><circle cx="1283.6" cy="696.2" r="4.6" fill="none" stroke="#f6911e" stroke-width="2.1"/><circle cx="1295.1" cy="696.2" r="4.6" fill="none" stroke="#f6911e" stroke-width="2.1"/><circle cx="1243.6" cy="710.3" r="4.6" fill="none" stroke="#f6911e" stroke-width="2.1"/><circle cx="1255.0" cy="710.3" r="4.6" fill="none" stroke="#f6911e" stroke-width="2.1"/><circle cx="1266.5" cy="710.3" r="4.6" fill="none" stroke="#f6911e" stroke-width="2.1"/><circle cx="1277.9" cy="710.3" r="4.6" fill="none" stroke="#f6911e" stroke-width="2.1"/><circle cx="1289.3" cy="710.3" r="4.6" fill="none" stroke="#f6911e" stroke-width="2.1"/><circle cx="1300.8" cy="710.3" r="4.6" fill="none" stroke="#f6911e" stroke-width="2.1"/><circle cx="1312.2" cy="710.3" r="4.6" fill="none" stroke="#f6911e" stroke-width="2.1"/><circle cx="1220.7" cy="726.5" r="4.6" fill="none" stroke="#f6911e" stroke-width="2.1"/><circle cx="1232.1" cy="726.5" r="4.6" fill="none" stroke="#f6911e" stroke-width="2.1"/><circle cx="1243.6" cy="726.5" r="4.6" fill="none" stroke="#f6911e" stroke-width="2.1"/><circle cx="1255.0" cy="726.5" r="4.6" fill="none" stroke="#f6911e" stroke-width="2.1"/><circle cx="1266.5" cy="726.5" r="4.6" fill="none" stroke="#f6911e" stroke-width="2.1"/><circle cx="1277.9" cy="726.5" r="4.6" fill="none" stroke="#f6911e" stroke-width="2.1"/><circle cx="1289.3" cy="726.5" r="4.6" fill="none" stroke="#f6911e" stroke-width="2.1"/><circle cx="1300.8" cy="726.5" r="4.6" fill="none" stroke="#f6911e" stroke-width="2.1"/><circle cx="1312.2" cy="726.5" r="4.6" fill="none" stroke="#f6911e" stroke-width="2.1"/><circle cx="1323.7" cy="726.5" r="4.6" fill="none" stroke="#f6911e" stroke-width="2.1"/><circle cx="1335.1" cy="726.5" r="4.6" fill="none" stroke="#f6911e" stroke-width="2.1"/><circle cx="1226.4" cy="741.1" r="4.6" fill="none" stroke="#f6911e" stroke-width="2.1"/><circle cx="1237.9" cy="741.1" r="4.6" fill="none" stroke="#f6911e" stroke-width="2.1"/><circle cx="1249.3" cy="741.1" r="4.6" fill="none" stroke="#f6911e" stroke-width="2.1"/><circle cx="1260.7" cy="741.1" r="4.6" fill="none" stroke="#f6911e" stroke-width="2.1"/><circle cx="1272.2" cy="741.1" r="4.6" fill="none" stroke="#f6911e" stroke-width="2.1"/><circle cx="1283.6" cy="741.1" r="4.6" fill="none" stroke="#f6911e" stroke-width="2.1"/><circle cx="1295.1" cy="741.1" r="4.6" fill="none" stroke="#f6911e" stroke-width="2.1"/><circle cx="1306.5" cy="741.1" r="4.6" fill="none" stroke="#f6911e" stroke-width="2.1"/><circle cx="1317.9" cy="741.1" r="4.6" fill="none" stroke="#f6911e" stroke-width="2.1"/><circle cx="1329.4" cy="741.1" r="4.6" fill="none" stroke="#f6911e" stroke-width="2.1"/><circle cx="1232.1" cy="755.7" r="4.6" fill="none" stroke="#f6911e" stroke-width="2.1"/><circle cx="1243.6" cy="755.7" r="4.6" fill="none" stroke="#f6911e" stroke-width="2.1"/><circle cx="1255.0" cy="755.7" r="4.6" fill="none" stroke="#f6911e" stroke-width="2.1"/><circle cx="1266.5" cy="755.7" r="4.6" fill="none" stroke="#f6911e" stroke-width="2.1"/><circle cx="1277.9" cy="755.7" r="4.6" fill="none" stroke="#f6911e" stroke-width="2.1"/><circle cx="1289.3" cy="755.7" r="4.6" fill="none" stroke="#f6911e" stroke-width="2.1"/><circle cx="1300.8" cy="755.7" r="4.6" fill="none" stroke="#f6911e" stroke-width="2.1"/><circle cx="1312.2" cy="755.7" r="4.6" fill="none" stroke="#f6911e" stroke-width="2.1"/><circle cx="1323.7" cy="755.7" r="4.6" fill="none" stroke="#f6911e" stroke-width="2.1"/><circle cx="1192.1" cy="770.2" r="4.6" fill="none" stroke="#f6911e" stroke-width="2.1"/><circle cx="1203.5" cy="770.2" r="4.6" fill="none" stroke="#f6911e" stroke-width="2.1"/><circle cx="1215.0" cy="770.2" r="4.6" fill="none" stroke="#f6911e" stroke-width="2.1"/><circle cx="1226.4" cy="770.2" r="4.6" fill="none" stroke="#f6911e" stroke-width="2.1"/><circle cx="1237.9" cy="770.2" r="4.6" fill="none" stroke="#f6911e" stroke-width="2.1"/><circle cx="1249.3" cy="770.2" r="4.6" fill="none" stroke="#f6911e" stroke-width="2.1"/><circle cx="1260.7" cy="770.2" r="4.6" fill="none" stroke="#f6911e" stroke-width="2.1"/><circle cx="1272.2" cy="770.2" r="4.6" fill="none" stroke="#f6911e" stroke-width="2.1"/><circle cx="1283.6" cy="770.2" r="4.6" fill="none" stroke="#f6911e" stroke-width="2.1"/><circle cx="1295.1" cy="770.2" r="4.6" fill="none" stroke="#f6911e" stroke-width="2.1"/><circle cx="1306.5" cy="770.2" r="4.6" fill="none" stroke="#f6911e" stroke-width="2.1"/><circle cx="1317.9" cy="770.2" r="4.6" fill="none" stroke="#f6911e" stroke-width="2.1"/><circle cx="1329.4" cy="770.2" r="4.6" fill="none" stroke="#f6911e" stroke-width="2.1"/><circle cx="1340.8" cy="770.2" r="4.6" fill="none" stroke="#f6911e" stroke-width="2.1"/><circle cx="1352.3" cy="770.2" r="4.6" fill="none" stroke="#f6911e" stroke-width="2.1"/><circle cx="1363.7" cy="770.2" r="4.6" fill="none" stroke="#f6911e" stroke-width="2.1"/><circle cx="1203.5" cy="785.1" r="4.6" fill="none" stroke="#f6911e" stroke-width="2.1"/><circle cx="1215.0" cy="785.1" r="4.6" fill="none" stroke="#f6911e" stroke-width="2.1"/><circle cx="1226.4" cy="785.1" r="4.6" fill="none" stroke="#f6911e" stroke-width="2.1"/><circle cx="1237.9" cy="785.1" r="4.6" fill="none" stroke="#f6911e" stroke-width="2.1"/><circle cx="1249.3" cy="785.1" r="4.6" fill="none" stroke="#f6911e" stroke-width="2.1"/><circle cx="1260.7" cy="785.1" r="4.6" fill="none" stroke="#f6911e" stroke-width="2.1"/><circle cx="1272.2" cy="785.1" r="4.6" fill="none" stroke="#f6911e" stroke-width="2.1"/><circle cx="1283.6" cy="785.1" r="4.6" fill="none" stroke="#f6911e" stroke-width="2.1"/><circle cx="1295.1" cy="785.1" r="4.6" fill="none" stroke="#f6911e" stroke-width="2.1"/><circle cx="1306.5" cy="785.1" r="4.6" fill="none" stroke="#f6911e" stroke-width="2.1"/><circle cx="1317.9" cy="785.1" r="4.6" fill="none" stroke="#f6911e" stroke-width="2.1"/><circle cx="1329.4" cy="785.1" r="4.6" fill="none" stroke="#f6911e" stroke-width="2.1"/><circle cx="1340.8" cy="785.1" r="4.6" fill="none" stroke="#f6911e" stroke-width="2.1"/><circle cx="1352.3" cy="785.1" r="4.6" fill="none" stroke="#f6911e" stroke-width="2.1"/><circle cx="1215.0" cy="801.0" r="4.6" fill="none" stroke="#f6911e" stroke-width="2.1"/><circle cx="1226.4" cy="801.0" r="4.6" fill="none" stroke="#f6911e" stroke-width="2.1"/><circle cx="1237.9" cy="801.0" r="4.6" fill="none" stroke="#f6911e" stroke-width="2.1"/><circle cx="1249.3" cy="801.0" r="4.6" fill="none" stroke="#f6911e" stroke-width="2.1"/><circle cx="1260.7" cy="801.0" r="4.6" fill="none" stroke="#f6911e" stroke-width="2.1"/><circle cx="1272.2" cy="801.0" r="4.6" fill="none" stroke="#f6911e" stroke-width="2.1"/><circle cx="1283.6" cy="801.0" r="4.6" fill="none" stroke="#f6911e" stroke-width="2.1"/><circle cx="1295.1" cy="801.0" r="4.6" fill="none" stroke="#f6911e" stroke-width="2.1"/><circle cx="1306.5" cy="801.0" r="4.6" fill="none" stroke="#f6911e" stroke-width="2.1"/><circle cx="1317.9" cy="801.0" r="4.6" fill="none" stroke="#f6911e" stroke-width="2.1"/><circle cx="1329.4" cy="801.0" r="4.6" fill="none" stroke="#f6911e" stroke-width="2.1"/><circle cx="1340.8" cy="801.0" r="4.6" fill="none" stroke="#f6911e" stroke-width="2.1"/><circle cx="1215.0" cy="815.0" r="4.6" fill="none" stroke="#f6911e" stroke-width="2.1"/><circle cx="1226.4" cy="815.0" r="4.6" fill="none" stroke="#f6911e" stroke-width="2.1"/><circle cx="1237.9" cy="815.0" r="4.6" fill="none" stroke="#f6911e" stroke-width="2.1"/><circle cx="1249.3" cy="815.0" r="4.6" fill="none" stroke="#f6911e" stroke-width="2.1"/><circle cx="1260.7" cy="815.0" r="4.6" fill="none" stroke="#f6911e" stroke-width="2.1"/><circle cx="1272.2" cy="815.0" r="4.6" fill="none" stroke="#f6911e" stroke-width="2.1"/><circle cx="1283.6" cy="815.0" r="4.6" fill="none" stroke="#f6911e" stroke-width="2.1"/><circle cx="1295.1" cy="815.0" r="4.6" fill="none" stroke="#f6911e" stroke-width="2.1"/><circle cx="1306.5" cy="815.0" r="4.6" fill="none" stroke="#f6911e" stroke-width="2.1"/><circle cx="1317.9" cy="815.0" r="4.6" fill="none" stroke="#f6911e" stroke-width="2.1"/><circle cx="1329.4" cy="815.0" r="4.6" fill="none" stroke="#f6911e" stroke-width="2.1"/><circle cx="1340.8" cy="815.0" r="4.6" fill="none" stroke="#f6911e" stroke-width="2.1"/><circle cx="1237.9" cy="832.1" r="4.6" fill="none" stroke="#f6911e" stroke-width="2.1"/><circle cx="1249.3" cy="832.1" r="4.6" fill="none" stroke="#f6911e" stroke-width="2.1"/><circle cx="1260.7" cy="832.1" r="4.6" fill="none" stroke="#f6911e" stroke-width="2.1"/><circle cx="1272.2" cy="832.1" r="4.6" fill="none" stroke="#f6911e" stroke-width="2.1"/><circle cx="1283.6" cy="832.1" r="4.6" fill="none" stroke="#f6911e" stroke-width="2.1"/><circle cx="1295.1" cy="832.1" r="4.6" fill="none" stroke="#f6911e" stroke-width="2.1"/><circle cx="1306.5" cy="832.1" r="4.6" fill="none" stroke="#f6911e" stroke-width="2.1"/><circle cx="1317.9" cy="832.1" r="4.6" fill="none" stroke="#f6911e" stroke-width="2.1"/><circle cx="1249.3" cy="847.6" r="4.6" fill="none" stroke="#f6911e" stroke-width="2.1"/><circle cx="1260.7" cy="847.6" r="4.6" fill="none" stroke="#f6911e" stroke-width="2.1"/><circle cx="1272.2" cy="847.6" r="4.6" fill="none" stroke="#f6911e" stroke-width="2.1"/><circle cx="1283.6" cy="847.6" r="4.6" fill="none" stroke="#f6911e" stroke-width="2.1"/><circle cx="1295.1" cy="847.6" r="4.6" fill="none" stroke="#f6911e" stroke-width="2.1"/><circle cx="1306.5" cy="847.6" r="4.6" fill="none" stroke="#f6911e" stroke-width="2.1"/><circle cx="1220.7" cy="862.5" r="4.6" fill="none" stroke="#f6911e" stroke-width="2.1"/><circle cx="1232.1" cy="862.5" r="4.6" fill="none" stroke="#f6911e" stroke-width="2.1"/><circle cx="1243.6" cy="862.5" r="4.6" fill="none" stroke="#f6911e" stroke-width="2.1"/><circle cx="1255.0" cy="862.5" r="4.6" fill="none" stroke="#f6911e" stroke-width="2.1"/><circle cx="1266.5" cy="862.5" r="4.6" fill="none" stroke="#f6911e" stroke-width="2.1"/><circle cx="1277.9" cy="862.5" r="4.6" fill="none" stroke="#f6911e" stroke-width="2.1"/><circle cx="1289.3" cy="862.5" r="4.6" fill="none" stroke="#f6911e" stroke-width="2.1"/><circle cx="1300.8" cy="862.5" r="4.6" fill="none" stroke="#f6911e" stroke-width="2.1"/><circle cx="1312.2" cy="862.5" r="4.6" fill="none" stroke="#f6911e" stroke-width="2.1"/><circle cx="1323.7" cy="862.5" r="4.6" fill="none" stroke="#f6911e" stroke-width="2.1"/><circle cx="1335.1" cy="862.5" r="4.6" fill="none" stroke="#f6911e" stroke-width="2.1"/><circle cx="1277.9" cy="888.0" r="4.6" fill="none" stroke="#f6911e" stroke-width="2.1"/>
<rect x="7.3" y="1126.7" width="671.2" height="432.8" fill="#ededed"/>
<text x="14.54" y="1194.00" font-size="86.40" textLength="42.54" lengthAdjust="spacingAndGlyphs" fill="#0c0c0e" >E</text>
<defs>
<linearGradient id="d1" x1="0" y1="0" x2="0" y2="1"><stop offset="0" stop-color="#aca58f"/><stop offset="0.35" stop-color="#a39c85"/><stop offset="0.5" stop-color="#8a846c"/><stop offset="0.62" stop-color="#706c55"/><stop offset="1" stop-color="#67644f"/></linearGradient>
<linearGradient id="d2" x1="0" y1="0" x2="0" y2="1"><stop offset="0" stop-color="#aaa99c"/><stop offset="0.4" stop-color="#9a998a"/><stop offset="0.55" stop-color="#7b7c6e"/><stop offset="0.7" stop-color="#6e726b"/><stop offset="1" stop-color="#676b64"/></linearGradient>
<linearGradient id="d3" x1="0" y1="0" x2="0" y2="1"><stop offset="0" stop-color="#bdbdb3"/><stop offset="0.5" stop-color="#a9aaa0"/><stop offset="1" stop-color="#8f938b"/></linearGradient>
<linearGradient id="d6" x1="0" y1="0" x2="0" y2="1"><stop offset="0" stop-color="#bcb7a5"/><stop offset="0.3" stop-color="#aaa48e"/><stop offset="0.5" stop-color="#7d7964"/><stop offset="0.65" stop-color="#6c6d5f"/><stop offset="1" stop-color="#646860"/></linearGradient>
<linearGradient id="st" x1="0" y1="0" x2="0" y2="1"><stop offset="0" stop-color="#6e6a54"/><stop offset="1" stop-color="#646049"/></linearGradient>
</defs>
<path d="M94,1445 L104.7,1370 L173.6,1370 L177,1445 Z" fill="url(#st)" stroke="#222" stroke-width="1"/>
<path d="M184,1445 L188,1370 L233,1370 L235.5,1421.8 L244,1421.8 L246,1445 Z" fill="#6a6d62"/>
<rect x="276" y="1380" width="19.5" height="65" fill="#858780"/>
<rect x="313.2" y="1421.8" width="15.8" height="23.2" fill="#5d5d4b" stroke="#333" stroke-width="0.8"/>
<rect x="352" y="1380" width="17.8" height="65" fill="#858780"/>
<path d="M410.4,1445 L412,1370 L459,1370 L461.6,1445 Z" fill="#6a6d62"/>
<path d="M470.5,1445 L476,1370 L545,1370 L553.5,1445 Z" fill="url(#st)"/>
<path d="M552,1248.6 C560,1248 567,1253 569,1262 C572,1300 577,1380 580.5,1446" fill="none" stroke="#c8373c" stroke-width="4.2"/>
<path d="M542,1366 C545,1390 548,1420 550,1446" fill="none" stroke="#c8373c" stroke-width="2.2"/>
<rect x="88" y="1288" width="8" height="16" rx="3" fill="#a9a79c"/>
<rect x="549" y="1289" width="9" height="14" rx="3" fill="#b9b8b0"/>
<ellipse cx="136.8" cy="1293.8" rx="44.7" ry="133.5" transform="rotate(-2.5 136.8 1293.8)" fill="url(#d1)"/>
<ellipse cx="211.9" cy="1294.4" rx="27" ry="135" transform="rotate(-1 211.9 1294.4)" fill="url(#d2)"/>
<ellipse cx="434" cy="1296.7" rx="27.7" ry="137.5" transform="rotate(1 434 1296.7)" fill="url(#d2)"/>
<ellipse cx="506.4" cy="1297.2" rx="43.5" ry="135.7" transform="rotate(2 506.4 1297.2)" fill="url(#d6)"/>
<rect x="146" y="1286" width="353" height="32.5" rx="4" fill="#111416"/>
<rect x="185" y="1286" width="28" height="32.5" fill="#6c6c58" opacity="0.85"/>
<rect x="425" y="1286" width="36" height="32.5" fill="#6e6d58" opacity="0.8"/>
<rect x="478" y="1288" width="21" height="29" fill="#3d3b2c" opacity="0.8"/>
<ellipse cx="286" cy="1296" rx="10.7" ry="138" transform="rotate(0 286 1296)" fill="url(#d3)"/>
<ellipse cx="358.6" cy="1295.5" rx="10.4" ry="136.4" transform="rotate(0 358.6 1295.5)" fill="url(#d3)"/>
<ellipse cx="136.8" cy="1293.8" rx="44.7" ry="133.5" transform="rotate(-2.5 136.8 1293.8)" fill="none" stroke="#060606" stroke-width="2.8"/>
<ellipse cx="211.9" cy="1294.4" rx="27" ry="135" transform="rotate(-1 211.9 1294.4)" fill="none" stroke="#060606" stroke-width="2.8"/>
<ellipse cx="286" cy="1296" rx="10.7" ry="138" transform="rotate(0 286 1296)" fill="none" stroke="#060606" stroke-width="2.8"/>
<ellipse cx="358.6" cy="1295.5" rx="10.4" ry="136.4" transform="rotate(0 358.6 1295.5)" fill="none" stroke="#060606" stroke-width="2.8"/>
<ellipse cx="434" cy="1296.7" rx="27.7" ry="137.5" transform="rotate(1 434 1296.7)" fill="none" stroke="#060606" stroke-width="2.8"/>
<ellipse cx="506.4" cy="1297.2" rx="43.5" ry="135.7" transform="rotate(2 506.4 1297.2)" fill="none" stroke="#060606" stroke-width="2.8"/>
<circle cx="231.8" cy="1255" r="4.2" fill="#b0b1b4" stroke="#444" stroke-width="1.1"/>
<circle cx="258.8" cy="1255" r="4.2" fill="#b0b1b4" stroke="#444" stroke-width="1.1"/>
<path d="M226.3,1283 C220.3,1278 223.3,1262 231.3,1256 C239.3,1251 251.3,1251 259.3,1256 C267.3,1262 270.3,1278 264.3,1284 C255.3,1289 235.3,1289 226.3,1283 Z" fill="#9d9ea1" stroke="#3a3a3a" stroke-width="1.3"/>
<path d="M245.3,1272 C241.9,1290 235.10000000000002,1305 228.3,1316" fill="none" stroke="#c9cacc" stroke-width="2.6"/>
<path d="M219.3,1287 L231.3,1285 M259.3,1285 L271.3,1287" stroke="#888" stroke-width="2"/>
<circle cx="312.5" cy="1255" r="4.2" fill="#b0b1b4" stroke="#444" stroke-width="1.1"/>
<circle cx="339.5" cy="1255" r="4.2" fill="#b0b1b4" stroke="#444" stroke-width="1.1"/>
<path d="M307,1283 C301,1278 304,1262 312,1256 C320,1251 332,1251 340,1256 C348,1262 351,1278 345,1284 C336,1289 316,1289 307,1283 Z" fill="#9d9ea1" stroke="#3a3a3a" stroke-width="1.3"/>
<path d="M326,1272 C329.4,1290 336.2,1305 343,1316" fill="none" stroke="#c9cacc" stroke-width="2.6"/>
<path d="M300,1287 L312,1285 M340,1285 L352,1287" stroke="#888" stroke-width="2"/>
<circle cx="383.0" cy="1255" r="4.2" fill="#b0b1b4" stroke="#444" stroke-width="1.1"/>
<circle cx="410.0" cy="1255" r="4.2" fill="#b0b1b4" stroke="#444" stroke-width="1.1"/>
<path d="M377.5,1283 C371.5,1278 374.5,1262 382.5,1256 C390.5,1251 402.5,1251 410.5,1256 C418.5,1262 421.5,1278 415.5,1284 C406.5,1289 386.5,1289 377.5,1283 Z" fill="#9d9ea1" stroke="#3a3a3a" stroke-width="1.3"/>
<path d="M396.5,1272 C396.5,1290 396.5,1305 396.5,1316" fill="none" stroke="#c9cacc" stroke-width="2.6"/>
<path d="M370.5,1287 L382.5,1285 M410.5,1285 L422.5,1287" stroke="#888" stroke-width="2"/>
<path d="M86,1447.5 L580,1444.5 C586,1444.5 589,1446 591,1452 L615,1530 C616,1537 612,1541 604,1541 L58,1541 C52,1541 49,1536 51,1530 L74,1455 C76,1449 80,1447.5 86,1447.5 Z" fill="#efeeed" stroke="#0a0a0a" stroke-width="4"/>
<path d="M90,1455 L576,1452 L600,1530 L62,1531 Z" fill="#e6e4e4" stroke="#c2b7b7" stroke-width="2"/>
<rect x="222.4" y="1469.4" width="213.4" height="41" rx="2" fill="#93cbef" stroke="#4a4e55" stroke-width="3"/>
<rect x="409.5" y="1472.5" width="24" height="34" fill="#f4f8fb"/>
<circle cx="260.3" cy="1476.8" r="3" fill="none" stroke="#fff" stroke-width="1.3"/>
<rect x="236.0" y="1481.6" width="31" height="3.4" fill="#f6fafd"/>
<circle cx="294.9" cy="1476.8" r="3" fill="none" stroke="#fff" stroke-width="1.3"/>
<rect x="270.5" y="1481.6" width="31" height="3.4" fill="#f6fafd"/>
<circle cx="329.4" cy="1476.8" r="3" fill="none" stroke="#fff" stroke-width="1.3"/>
<rect x="305.0" y="1481.6" width="31" height="3.4" fill="#f6fafd"/>
<circle cx="363.9" cy="1476.8" r="3" fill="none" stroke="#fff" stroke-width="1.3"/>
<rect x="339.5" y="1481.6" width="31" height="3.4" fill="#f6fafd"/>
<circle cx="398.5" cy="1476.8" r="3" fill="none" stroke="#fff" stroke-width="1.3"/>
<rect x="374.0" y="1481.6" width="31" height="3.4" fill="#f6fafd"/>
<ellipse cx="482" cy="1468.8" rx="22" ry="5" fill="#3a74c4"/>
<line x1="440" y1="1472" x2="460" y2="1468.8" stroke="#666" stroke-width="1"/>
<ellipse cx="485" cy="1482.5" rx="22" ry="5" fill="#3a74c4"/>
<line x1="440" y1="1483" x2="463" y2="1482.5" stroke="#666" stroke-width="1"/>
<ellipse cx="486" cy="1495.8" rx="22" ry="5" fill="#3a74c4"/>
<line x1="440" y1="1494" x2="464" y2="1495.8" stroke="#666" stroke-width="1"/>
<ellipse cx="488" cy="1509.7" rx="22" ry="5" fill="#3a74c4"/>
<line x1="440" y1="1505" x2="466" y2="1509.7" stroke="#666" stroke-width="1"/>
<ellipse cx="176" cy="1483.6" rx="25" ry="4.5" fill="#3c76c6"/>
<ellipse cx="173.5" cy="1498.8" rx="25.5" ry="4.6" fill="#e2453f"/>
<text x="176" y="1485.3" font-size="4.5" fill="#e8f0fa" text-anchor="middle">START</text>
<text x="173.5" y="1500.5" font-size="4.5" fill="#fbe3e2" text-anchor="middle">RESET  STOP</text>
<text x="482" y="1470.3999999999999" font-size="4.5" fill="#e8f0fa" text-anchor="middle">F1</text>
<text x="485" y="1484.1" font-size="4.5" fill="#e8f0fa" text-anchor="middle">F2</text>
<text x="486" y="1497.3999999999999" font-size="4.5" fill="#e8f0fa" text-anchor="middle">F3</text>
<text x="488" y="1511.3" font-size="4.5" fill="#e8f0fa" text-anchor="middle">F4</text>
<text x="238" y="1493.5" font-size="5.2" font-family="Liberation Mono" fill="#f4f9fd">UGO BASILE  Biological Research</text>
<text x="238" y="1498.5" font-size="5.2" font-family="Liberation Mono" fill="#f4f9fd">Rota-rod for mice 47600</text>
<text x="97" y="1467" font-size="8" font-style="italic" fill="#555">ROTA ROD</text>
<path d="M530,1512 L530,1503 C530,1499 538,1499 538,1503 L538,1512 M534,1512 L534,1505" fill="none" stroke="#2f64b8" stroke-width="2"/>
<text x="526" y="1519.5" font-size="6" fill="#2f64b8">UGO BASILE</text>
<text x="707.59" y="1192.70" font-size="86.98" textLength="39.35" lengthAdjust="spacingAndGlyphs" fill="#0c0c0e" >F</text>
<rect x="925.8" y="1078" width="114.5" height="53.4" fill="#ececec"/>
<rect x="1044.8" y="1078" width="114.5" height="53.4" fill="#ececec"/>
<rect x="1164.5" y="1078" width="114.79999999999995" height="53.4" fill="#ececec"/>
<rect x="1284.5" y="1078" width="112.5" height="53.4" fill="#ececec"/>
<text x="936.62" y="1118.00" font-size="39.27" textLength="91.12" lengthAdjust="spacingAndGlyphs" fill="#0c0c0e" >Day 1</text>
<text x="1053.00" y="1118.00" font-size="39.27" textLength="94.90" lengthAdjust="spacingAndGlyphs" fill="#0c0c0e" >Day 2</text>
<text x="1173.47" y="1118.00" font-size="39.27" textLength="96.09" lengthAdjust="spacingAndGlyphs" fill="#0c0c0e" >Day 3</text>
<text x="1294.24" y="1118.00" font-size="39.27" textLength="93.63" lengthAdjust="spacingAndGlyphs" fill="#0c0c0e" >Day 4</text>
<line x1="900.6" y1="1118" x2="900.6" y2="1559.2" stroke="#0c0c0e" stroke-width="4.6"/>
<line x1="886.5" y1="1139.3" x2="901" y2="1139.3" stroke="#0c0c0e" stroke-width="4.5"/>
<text x="813.97" y="1152.50" font-size="38.55" fill="#0c0c0e">300</text>
<line x1="886.5" y1="1278.5" x2="901" y2="1278.5" stroke="#0c0c0e" stroke-width="4.5"/>
<text x="813.97" y="1291.70" font-size="38.55" fill="#0c0c0e">200</text>
<line x1="886.5" y1="1417.7" x2="901" y2="1417.7" stroke="#0c0c0e" stroke-width="4.5"/>
<text x="813.97" y="1430.90" font-size="38.55" fill="#0c0c0e">100</text>
<line x1="886.5" y1="1556.9" x2="901" y2="1556.9" stroke="#0c0c0e" stroke-width="4.5"/>
<text x="856.85" y="1570.10" font-size="38.55" fill="#0c0c0e">0</text>
<line x1="924.7" y1="1557.2" x2="1040.1" y2="1557.2" stroke="#0c0c0e" stroke-width="4.6"/>
<line x1="1044.6" y1="1557.2" x2="1159.4" y2="1557.2" stroke="#0c0c0e" stroke-width="4.6"/>
<line x1="1164.7" y1="1557.2" x2="1279.5" y2="1557.2" stroke="#0c0c0e" stroke-width="4.6"/>
<line x1="1285" y1="1557.2" x2="1396.7" y2="1557.2" stroke="#0c0c0e" stroke-width="4.6"/>
<line x1="941.2" y1="1557" x2="941.2" y2="1567.3" stroke="#0c0c0e" stroke-width="4.4"/>
<text x="928.47" y="1604.80" font-size="38.55" fill="#0c0c0e">1</text>
<line x1="968.6" y1="1557" x2="968.6" y2="1567.3" stroke="#0c0c0e" stroke-width="4.4"/>
<text x="957.90" y="1604.80" font-size="38.55" fill="#0c0c0e">2</text>
<line x1="996" y1="1557" x2="996" y2="1567.3" stroke="#0c0c0e" stroke-width="4.4"/>
<text x="986.90" y="1604.80" font-size="38.55" fill="#0c0c0e">3</text>
<line x1="1023.9" y1="1557" x2="1023.9" y2="1567.3" stroke="#0c0c0e" stroke-width="4.4"/>
<text x="1011.80" y="1604.80" font-size="38.55" fill="#0c0c0e">4</text>
<line x1="1060.5" y1="1557" x2="1060.5" y2="1567.3" stroke="#0c0c0e" stroke-width="4.4"/>
<text x="1047.77" y="1604.80" font-size="38.55" fill="#0c0c0e">1</text>
<line x1="1087.8" y1="1557" x2="1087.8" y2="1567.3" stroke="#0c0c0e" stroke-width="4.4"/>
<text x="1077.10" y="1604.80" font-size="38.55" fill="#0c0c0e">2</text>
<line x1="1115.2" y1="1557" x2="1115.2" y2="1567.3" stroke="#0c0c0e" stroke-width="4.4"/>
<text x="1106.10" y="1604.80" font-size="38.55" fill="#0c0c0e">3</text>
<line x1="1143" y1="1557" x2="1143" y2="1567.3" stroke="#0c0c0e" stroke-width="4.4"/>
<text x="1130.90" y="1604.80" font-size="38.55" fill="#0c0c0e">4</text>
<line x1="1180.8" y1="1557" x2="1180.8" y2="1567.3" stroke="#0c0c0e" stroke-width="4.4"/>
<text x="1168.07" y="1604.80" font-size="38.55" fill="#0c0c0e">1</text>
<line x1="1208.8" y1="1557" x2="1208.8" y2="1567.3" stroke="#0c0c0e" stroke-width="4.4"/>
<text x="1198.10" y="1604.80" font-size="38.55" fill="#0c0c0e">2</text>
<line x1="1236.1" y1="1557" x2="1236.1" y2="1567.3" stroke="#0c0c0e" stroke-width="4.4"/>
<text x="1227.00" y="1604.80" font-size="38.55" fill="#0c0c0e">3</text>
<line x1="1263.8" y1="1557" x2="1263.8" y2="1567.3" stroke="#0c0c0e" stroke-width="4.4"/>
<text x="1251.70" y="1604.80" font-size="38.55" fill="#0c0c0e">4</text>
<line x1="1300.8" y1="1557" x2="1300.8" y2="1567.3" stroke="#0c0c0e" stroke-width="4.4"/>
<text x="1288.07" y="1604.80" font-size="38.55" fill="#0c0c0e">1</text>
<line x1="1328.8" y1="1557" x2="1328.8" y2="1567.3" stroke="#0c0c0e" stroke-width="4.4"/>
<text x="1318.10" y="1604.80" font-size="38.55" fill="#0c0c0e">2</text>
<line x1="1356.8" y1="1557" x2="1356.8" y2="1567.3" stroke="#0c0c0e" stroke-width="4.4"/>
<text x="1347.70" y="1604.80" font-size="38.55" fill="#0c0c0e">3</text>
<line x1="1384.4" y1="1557" x2="1384.4" y2="1567.3" stroke="#0c0c0e" stroke-width="4.4"/>
<text x="1372.30" y="1604.80" font-size="38.55" fill="#0c0c0e">4</text>
<text x="1124.14" y="1644.50" font-size="39.85" textLength="73.25" lengthAdjust="spacingAndGlyphs" fill="#0c0c0e" >Trial</text>
<text transform="translate(795.30,1485.80) rotate(-90)" x="-3.12" y="0" font-size="40.15" textLength="233.19" lengthAdjust="spacingAndGlyphs" fill="#0c0c0e">Latency to fall</text>
<text transform="translate(795.30,1243.40) rotate(-90)" x="-1.94" y="0" font-size="35.64" textLength="44.93" lengthAdjust="spacingAndGlyphs" fill="#0c0c0e">(s.)</text>
<polyline points="925.8,1222.7 925.8,1216 1040.3,1216 1040.3,1222.7" fill="none" stroke="#0c0c0e" stroke-width="2.4"/>
<polyline points="1045,1169 1045,1162.6 1159.5,1162.6 1159.5,1169" fill="none" stroke="#0c0c0e" stroke-width="2.4"/>
<text x="974.53" y="1226.59" font-size="48.57" fill="#0c0c0e">*</text>
<text x="1092.83" y="1173.09" font-size="48.57" fill="#0c0c0e">*</text>
<line x1="941.2" y1="1249.4" x2="941.2" y2="1331.1" stroke="#f6911e" stroke-width="4"/>
<line x1="934.8000000000001" y1="1249.4" x2="947.6" y2="1249.4" stroke="#f6911e" stroke-width="3.6"/>
<line x1="934.8000000000001" y1="1331.1" x2="947.6" y2="1331.1" stroke="#f6911e" stroke-width="3.6"/>
<line x1="968.6" y1="1233.2" x2="968.6" y2="1354" stroke="#f6911e" stroke-width="4"/>
<line x1="962.2" y1="1233.2" x2="975.0" y2="1233.2" stroke="#f6911e" stroke-width="3.6"/>
<line x1="962.2" y1="1354" x2="975.0" y2="1354" stroke="#f6911e" stroke-width="3.6"/>
<line x1="996" y1="1228" x2="996" y2="1324.5" stroke="#f6911e" stroke-width="4"/>
<line x1="989.6" y1="1228" x2="1002.4" y2="1228" stroke="#f6911e" stroke-width="3.6"/>
<line x1="989.6" y1="1324.5" x2="1002.4" y2="1324.5" stroke="#f6911e" stroke-width="3.6"/>
<line x1="1023.9" y1="1254.7" x2="1023.9" y2="1323.9" stroke="#f6911e" stroke-width="4"/>
<line x1="1017.5" y1="1254.7" x2="1030.3" y2="1254.7" stroke="#f6911e" stroke-width="3.6"/>
<line x1="1017.5" y1="1323.9" x2="1030.3" y2="1323.9" stroke="#f6911e" stroke-width="3.6"/>
<polyline points="941.2,1290.5 968.6,1292.2 996.0,1276.0 1023.9,1289.0" fill="none" stroke="#f6911e" stroke-width="4.6" stroke-linejoin="round"/>
<circle cx="941.2" cy="1290.5" r="5.8" fill="#f6911e"/>
<circle cx="968.6" cy="1292.2" r="5.8" fill="#f6911e"/>
<circle cx="996" cy="1276" r="5.8" fill="#f6911e"/>
<circle cx="1023.9" cy="1289" r="5.8" fill="#f6911e"/>
<line x1="1060.5" y1="1174.6" x2="1060.5" y2="1281.1" stroke="#f6911e" stroke-width="4"/>
<line x1="1054.1" y1="1174.6" x2="1066.9" y2="1174.6" stroke="#f6911e" stroke-width="3.6"/>
<line x1="1054.1" y1="1281.1" x2="1066.9" y2="1281.1" stroke="#f6911e" stroke-width="3.6"/>
<line x1="1087.8" y1="1182.6" x2="1087.8" y2="1282" stroke="#f6911e" stroke-width="4"/>
<line x1="1081.3999999999999" y1="1182.6" x2="1094.2" y2="1182.6" stroke="#f6911e" stroke-width="3.6"/>
<line x1="1081.3999999999999" y1="1282" x2="1094.2" y2="1282" stroke="#f6911e" stroke-width="3.6"/>
<line x1="1115.2" y1="1238" x2="1115.2" y2="1300.6" stroke="#f6911e" stroke-width="4"/>
<line x1="1108.8" y1="1238" x2="1121.6000000000001" y2="1238" stroke="#f6911e" stroke-width="3.6"/>
<line x1="1108.8" y1="1300.6" x2="1121.6000000000001" y2="1300.6" stroke="#f6911e" stroke-width="3.6"/>
<line x1="1143" y1="1195" x2="1143" y2="1273.5" stroke="#f6911e" stroke-width="4"/>
<line x1="1136.6" y1="1195" x2="1149.4" y2="1195" stroke="#f6911e" stroke-width="3.6"/>
<line x1="1136.6" y1="1273.5" x2="1149.4" y2="1273.5" stroke="#f6911e" stroke-width="3.6"/>
<polyline points="1060.5,1228.0 1087.8,1231.3 1115.2,1267.5 1143.0,1234.1" fill="none" stroke="#f6911e" stroke-width="4.6" stroke-linejoin="round"/>
<circle cx="1060.5" cy="1228" r="5.8" fill="#f6911e"/>
<circle cx="1087.8" cy="1231.3" r="5.8" fill="#f6911e"/>
<circle cx="1115.2" cy="1267.5" r="5.8" fill="#f6911e"/>
<circle cx="1143" cy="1234.1" r="5.8" fill="#f6911e"/>
<line x1="1180.8" y1="1181.2" x2="1180.8" y2="1259.8" stroke="#f6911e" stroke-width="4"/>
<line x1="1174.3999999999999" y1="1181.2" x2="1187.2" y2="1181.2" stroke="#f6911e" stroke-width="3.6"/>
<line x1="1174.3999999999999" y1="1259.8" x2="1187.2" y2="1259.8" stroke="#f6911e" stroke-width="3.6"/>
<line x1="1208.8" y1="1233.9" x2="1208.8" y2="1312" stroke="#f6911e" stroke-width="4"/>
<line x1="1202.3999999999999" y1="1233.9" x2="1215.2" y2="1233.9" stroke="#f6911e" stroke-width="3.6"/>
<line x1="1202.3999999999999" y1="1312" x2="1215.2" y2="1312" stroke="#f6911e" stroke-width="3.6"/>
<line x1="1236.1" y1="1219.2" x2="1236.1" y2="1294.3" stroke="#f6911e" stroke-width="4"/>
<line x1="1229.6999999999998" y1="1219.2" x2="1242.5" y2="1219.2" stroke="#f6911e" stroke-width="3.6"/>
<line x1="1229.6999999999998" y1="1294.3" x2="1242.5" y2="1294.3" stroke="#f6911e" stroke-width="3.6"/>
<line x1="1263.8" y1="1193.2" x2="1263.8" y2="1275.2" stroke="#f6911e" stroke-width="4"/>
<line x1="1257.3999999999999" y1="1193.2" x2="1270.2" y2="1193.2" stroke="#f6911e" stroke-width="3.6"/>
<line x1="1257.3999999999999" y1="1275.2" x2="1270.2" y2="1275.2" stroke="#f6911e" stroke-width="3.6"/>
<polyline points="1180.8,1221.0 1208.8,1272.2 1236.1,1256.8 1263.8,1233.3" fill="none" stroke="#f6911e" stroke-width="4.6" stroke-linejoin="round"/>
<circle cx="1180.8" cy="1221" r="5.8" fill="#f6911e"/>
<circle cx="1208.8" cy="1272.2" r="5.8" fill="#f6911e"/>
<circle cx="1236.1" cy="1256.8" r="5.8" fill="#f6911e"/>
<circle cx="1263.8" cy="1233.3" r="5.8" fill="#f6911e"/>
<line x1="1300.8" y1="1197.1" x2="1300.8" y2="1281.6" stroke="#f6911e" stroke-width="4"/>
<line x1="1294.3999999999999" y1="1197.1" x2="1307.2" y2="1197.1" stroke="#f6911e" stroke-width="3.6"/>
<line x1="1294.3999999999999" y1="1281.6" x2="1307.2" y2="1281.6" stroke="#f6911e" stroke-width="3.6"/>
<line x1="1328.8" y1="1224" x2="1328.8" y2="1319" stroke="#f6911e" stroke-width="4"/>
<line x1="1322.3999999999999" y1="1224" x2="1335.2" y2="1224" stroke="#f6911e" stroke-width="3.6"/>
<line x1="1322.3999999999999" y1="1319" x2="1335.2" y2="1319" stroke="#f6911e" stroke-width="3.6"/>
<line x1="1356.8" y1="1211.2" x2="1356.8" y2="1310.2" stroke="#f6911e" stroke-width="4"/>
<line x1="1350.3999999999999" y1="1211.2" x2="1363.2" y2="1211.2" stroke="#f6911e" stroke-width="3.6"/>
<line x1="1350.3999999999999" y1="1310.2" x2="1363.2" y2="1310.2" stroke="#f6911e" stroke-width="3.6"/>
<line x1="1384.4" y1="1213" x2="1384.4" y2="1309" stroke="#f6911e" stroke-width="4"/>
<line x1="1378.0" y1="1213" x2="1390.8000000000002" y2="1213" stroke="#f6911e" stroke-width="3.6"/>
<line x1="1378.0" y1="1309" x2="1390.8000000000002" y2="1309" stroke="#f6911e" stroke-width="3.6"/>
<polyline points="1300.8,1239.5 1328.8,1271.7 1356.8,1260.7 1384.4,1260.7" fill="none" stroke="#f6911e" stroke-width="4.6" stroke-linejoin="round"/>
<circle cx="1300.8" cy="1239.5" r="5.8" fill="#f6911e"/>
<circle cx="1328.8" cy="1271.7" r="5.8" fill="#f6911e"/>
<circle cx="1356.8" cy="1260.7" r="5.8" fill="#f6911e"/>
<circle cx="1384.4" cy="1260.7" r="5.8" fill="#f6911e"/>
<line x1="941.2" y1="1361.3" x2="941.2" y2="1492.9" stroke="#3350a2" stroke-width="4"/>
<line x1="934.8000000000001" y1="1361.3" x2="947.6" y2="1361.3" stroke="#3350a2" stroke-width="3.6"/>
<line x1="934.8000000000001" y1="1492.9" x2="947.6" y2="1492.9" stroke="#3350a2" stroke-width="3.6"/>
<line x1="968.6" y1="1323.1" x2="968.6" y2="1470.9" stroke="#3350a2" stroke-width="4"/>
<line x1="962.2" y1="1323.1" x2="975.0" y2="1323.1" stroke="#3350a2" stroke-width="3.6"/>
<line x1="962.2" y1="1470.9" x2="975.0" y2="1470.9" stroke="#3350a2" stroke-width="3.6"/>
<line x1="996" y1="1331.1" x2="996" y2="1458.6" stroke="#3350a2" stroke-width="4"/>
<line x1="989.6" y1="1331.1" x2="1002.4" y2="1331.1" stroke="#3350a2" stroke-width="3.6"/>
<line x1="989.6" y1="1458.6" x2="1002.4" y2="1458.6" stroke="#3350a2" stroke-width="3.6"/>
<line x1="1023.9" y1="1334" x2="1023.9" y2="1461.1" stroke="#3350a2" stroke-width="4"/>
<line x1="1017.5" y1="1334" x2="1030.3" y2="1334" stroke="#3350a2" stroke-width="3.6"/>
<line x1="1017.5" y1="1461.1" x2="1030.3" y2="1461.1" stroke="#3350a2" stroke-width="3.6"/>
<polyline points="941.2,1425.6 968.6,1396.0 996.0,1395.6 1023.9,1397.0" fill="none" stroke="#3350a2" stroke-width="4.6" stroke-linejoin="round"/>
<circle cx="941.2" cy="1425.6" r="5.8" fill="#3350a2"/>
<circle cx="968.6" cy="1396" r="5.8" fill="#3350a2"/>
<circle cx="996" cy="1395.6" r="5.8" fill="#3350a2"/>
<circle cx="1023.9" cy="1397" r="5.8" fill="#3350a2"/>
<line x1="1060.5" y1="1272" x2="1060.5" y2="1399.8" stroke="#3350a2" stroke-width="4"/>
<line x1="1054.1" y1="1272" x2="1066.9" y2="1272" stroke="#3350a2" stroke-width="3.6"/>
<line x1="1054.1" y1="1399.8" x2="1066.9" y2="1399.8" stroke="#3350a2" stroke-width="3.6"/>
<line x1="1087.8" y1="1281.9" x2="1087.8" y2="1405.6" stroke="#3350a2" stroke-width="4"/>
<line x1="1081.3999999999999" y1="1281.9" x2="1094.2" y2="1281.9" stroke="#3350a2" stroke-width="3.6"/>
<line x1="1081.3999999999999" y1="1405.6" x2="1094.2" y2="1405.6" stroke="#3350a2" stroke-width="3.6"/>
<line x1="1115.2" y1="1275.4" x2="1115.2" y2="1388.4" stroke="#3350a2" stroke-width="4"/>
<line x1="1108.8" y1="1275.4" x2="1121.6000000000001" y2="1275.4" stroke="#3350a2" stroke-width="3.6"/>
<line x1="1108.8" y1="1388.4" x2="1121.6000000000001" y2="1388.4" stroke="#3350a2" stroke-width="3.6"/>
<line x1="1143" y1="1262.8" x2="1143" y2="1370.8" stroke="#3350a2" stroke-width="4"/>
<line x1="1136.6" y1="1262.8" x2="1149.4" y2="1262.8" stroke="#3350a2" stroke-width="3.6"/>
<line x1="1136.6" y1="1370.8" x2="1149.4" y2="1370.8" stroke="#3350a2" stroke-width="3.6"/>
<polyline points="1060.5,1335.9 1087.8,1344.1 1115.2,1332.1 1143.0,1316.8" fill="none" stroke="#3350a2" stroke-width="4.6" stroke-linejoin="round"/>
<circle cx="1060.5" cy="1335.9" r="5.8" fill="#3350a2"/>
<circle cx="1087.8" cy="1344.1" r="5.8" fill="#3350a2"/>
<circle cx="1115.2" cy="1332.1" r="5.8" fill="#3350a2"/>
<circle cx="1143" cy="1316.8" r="5.8" fill="#3350a2"/>
<line x1="1180.8" y1="1251.9" x2="1180.8" y2="1385.3" stroke="#3350a2" stroke-width="4"/>
<line x1="1174.3999999999999" y1="1251.9" x2="1187.2" y2="1251.9" stroke="#3350a2" stroke-width="3.6"/>
<line x1="1174.3999999999999" y1="1385.3" x2="1187.2" y2="1385.3" stroke="#3350a2" stroke-width="3.6"/>
<line x1="1208.8" y1="1251.9" x2="1208.8" y2="1359.6" stroke="#3350a2" stroke-width="4"/>
<line x1="1202.3999999999999" y1="1251.9" x2="1215.2" y2="1251.9" stroke="#3350a2" stroke-width="3.6"/>
<line x1="1202.3999999999999" y1="1359.6" x2="1215.2" y2="1359.6" stroke="#3350a2" stroke-width="3.6"/>
<line x1="1236.1" y1="1225.4" x2="1236.1" y2="1357.9" stroke="#3350a2" stroke-width="4"/>
<line x1="1229.6999999999998" y1="1225.4" x2="1242.5" y2="1225.4" stroke="#3350a2" stroke-width="3.6"/>
<line x1="1229.6999999999998" y1="1357.9" x2="1242.5" y2="1357.9" stroke="#3350a2" stroke-width="3.6"/>
<line x1="1263.8" y1="1239.5" x2="1263.8" y2="1367.1" stroke="#3350a2" stroke-width="4"/>
<line x1="1257.3999999999999" y1="1239.5" x2="1270.2" y2="1239.5" stroke="#3350a2" stroke-width="3.6"/>
<line x1="1257.3999999999999" y1="1367.1" x2="1270.2" y2="1367.1" stroke="#3350a2" stroke-width="3.6"/>
<polyline points="1180.8,1319.0 1208.8,1305.8 1236.1,1291.6 1263.8,1303.5" fill="none" stroke="#3350a2" stroke-width="4.6" stroke-linejoin="round"/>
<circle cx="1180.8" cy="1319" r="5.8" fill="#3350a2"/>
<circle cx="1208.8" cy="1305.8" r="5.8" fill="#3350a2"/>
<circle cx="1236.1" cy="1291.6" r="5.8" fill="#3350a2"/>
<circle cx="1263.8" cy="1303.5" r="5.8" fill="#3350a2"/>
<line x1="1300.8" y1="1244.8" x2="1300.8" y2="1348.7" stroke="#3350a2" stroke-width="4"/>
<line x1="1294.3999999999999" y1="1244.8" x2="1307.2" y2="1244.8" stroke="#3350a2" stroke-width="3.6"/>
<line x1="1294.3999999999999" y1="1348.7" x2="1307.2" y2="1348.7" stroke="#3350a2" stroke-width="3.6"/>
<line x1="1328.8" y1="1253.3" x2="1328.8" y2="1393.6" stroke="#3350a2" stroke-width="4"/>
<line x1="1322.3999999999999" y1="1253.3" x2="1335.2" y2="1253.3" stroke="#3350a2" stroke-width="3.6"/>
<line x1="1322.3999999999999" y1="1393.6" x2="1335.2" y2="1393.6" stroke="#3350a2" stroke-width="3.6"/>
<line x1="1356.8" y1="1232.8" x2="1356.8" y2="1380.8" stroke="#3350a2" stroke-width="4"/>
<line x1="1350.3999999999999" y1="1232.8" x2="1363.2" y2="1232.8" stroke="#3350a2" stroke-width="3.6"/>
<line x1="1350.3999999999999" y1="1380.8" x2="1363.2" y2="1380.8" stroke="#3350a2" stroke-width="3.6"/>
<line x1="1384.4" y1="1232.8" x2="1384.4" y2="1362.3" stroke="#3350a2" stroke-width="4"/>
<line x1="1378.0" y1="1232.8" x2="1390.8000000000002" y2="1232.8" stroke="#3350a2" stroke-width="3.6"/>
<line x1="1378.0" y1="1362.3" x2="1390.8000000000002" y2="1362.3" stroke="#3350a2" stroke-width="3.6"/>
<polyline points="1300.8,1296.4 1328.8,1324.0 1356.8,1306.6 1384.4,1297.5" fill="none" stroke="#3350a2" stroke-width="4.6" stroke-linejoin="round"/>
<circle cx="1300.8" cy="1296.4" r="5.8" fill="#3350a2"/>
<circle cx="1328.8" cy="1324" r="5.8" fill="#3350a2"/>
<circle cx="1356.8" cy="1306.6" r="5.8" fill="#3350a2"/>
<circle cx="1384.4" cy="1297.5" r="5.8" fill="#3350a2"/>
<line x1="1087.4" y1="1495.2" x2="1124.3" y2="1495.2" stroke="#f6911e" stroke-width="4.6" stroke-linecap="round"/>
<circle cx="1105.5" cy="1494.7" r="9.2" fill="#f6911e"/>
<line x1="1087.4" y1="1533.5" x2="1124.3" y2="1533.5" stroke="#3350a2" stroke-width="4.6" stroke-linecap="round"/>
<circle cx="1105.5" cy="1533.2" r="9.2" fill="#3350a2"/>
<text x="1127.85" y="1507.00" font-size="38.25" textLength="273.07" lengthAdjust="spacingAndGlyphs" fill="#0c0c0e" >Enriched (n=16)</text>
<text x="1125.68" y="1542.30" font-size="37.82" textLength="275.25" lengthAdjust="spacingAndGlyphs" fill="#0c0c0e" >Standard (n=11)</text>
</svg>
</body></html>
